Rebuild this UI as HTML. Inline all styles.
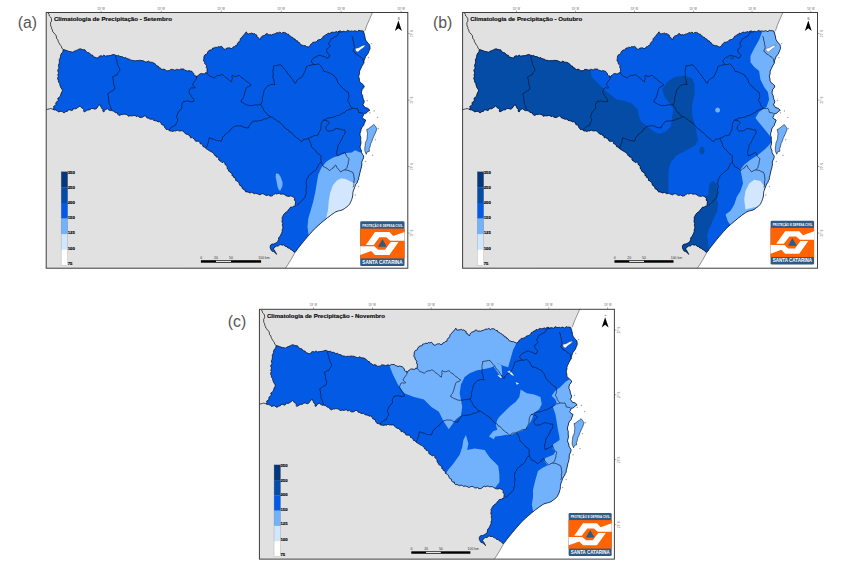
<!DOCTYPE html><html><head><meta charset="utf-8"><style>html,body{margin:0;padding:0;background:#fff}svg{display:block}text{font-family:"Liberation Sans",sans-serif}</style></head><body>
<svg width="845" height="572" viewBox="0 0 845 572">
<rect width="845" height="572" fill="#fff"/>
<defs><clipPath id="cs"><path d="M17.1 37.0 L19.2 37.6 L20.6 38.1 L22.0 38.7 L23.7 39.1 L25.5 39.4 L26.8 39.8 L27.8 38.7 L29.0 38.4 L30.1 37.9 L31.4 37.4 L32.5 36.7 L34.3 36.3 L36.0 37.0 L37.4 37.2 L38.8 37.3 L39.5 38.4 L40.3 39.5 L41.6 40.1 L43.1 40.4 L44.1 41.5 L45.1 42.6 L46.6 42.7 L47.1 44.4 L48.6 44.6 L50.2 45.3 L52.1 45.4 L53.0 43.7 L54.8 43.2 L56.4 43.7 L57.6 42.6 L59.3 43.7 L61.1 43.2 L62.6 43.2 L64.0 43.0 L65.3 42.6 L66.8 42.1 L68.2 42.0 L69.5 42.9 L70.9 43.3 L72.5 42.9 L73.7 44.0 L75.3 44.0 L76.7 44.5 L77.9 45.4 L79.5 45.0 L80.7 46.0 L82.1 46.4 L83.6 46.7 L84.7 47.8 L86.3 47.8 L87.7 48.2 L89.1 48.3 L90.5 48.0 L91.9 48.2 L93.3 47.8 L94.9 48.0 L96.5 48.1 L98.0 48.8 L99.5 49.5 L100.8 49.4 L102.2 48.5 L103.4 49.5 L104.9 49.7 L106.4 49.9 L107.6 50.5 L108.8 51.3 L109.8 52.2 L110.6 53.4 L112.0 53.5 L112.4 55.1 L113.8 55.3 L114.8 56.2 L116.0 57.1 L117.6 56.6 L119.0 57.2 L120.2 58.2 L121.7 58.3 L123.2 58.0 L124.4 56.9 L125.9 56.9 L127.4 57.2 L128.8 57.8 L130.2 56.9 L131.6 56.9 L133.0 57.6 L134.3 56.5 L135.8 56.6 L137.4 56.4 L138.5 57.7 L140.0 58.0 L141.3 58.6 L142.8 58.0 L144.1 58.5 L145.7 58.8 L146.6 60.0 L147.6 61.1 L147.7 62.5 L148.7 63.3 L150.3 63.6 L150.4 65.0 L151.2 63.4 L152.5 62.5 L153.8 61.4 L155.1 61.0 L156.7 61.3 L158.2 61.5 L159.2 60.2 L160.7 60.4 L160.8 59.0 L160.8 57.6 L160.9 56.2 L160.0 54.9 L160.4 53.2 L159.5 52.0 L158.4 51.0 L158.7 49.4 L157.4 48.6 L157.4 47.1 L157.7 45.8 L157.7 44.5 L158.1 43.3 L158.8 42.2 L160.3 41.8 L161.1 40.7 L161.6 39.4 L162.5 38.2 L163.8 37.5 L165.5 37.4 L166.4 35.6 L168.0 35.4 L169.3 34.7 L171.0 35.0 L172.2 34.0 L173.6 34.4 L175.1 33.8 L176.4 34.7 L177.3 36.4 L179.2 36.8 L180.4 35.6 L182.0 35.4 L183.5 35.3 L184.8 36.1 L186.2 35.8 L187.0 34.4 L188.3 34.0 L189.5 33.0 L191.1 32.6 L191.2 31.0 L191.9 29.9 L193.2 29.1 L194.0 27.7 L194.2 26.1 L195.3 24.9 L196.3 24.1 L197.0 22.9 L198.1 22.1 L199.1 20.6 L200.2 19.3 L200.7 20.9 L202.3 21.4 L203.4 21.0 L204.6 20.9 L205.8 20.4 L206.7 21.5 L208.3 21.0 L209.3 22.1 L210.6 22.6 L210.6 24.4 L212.1 24.9 L212.7 26.3 L214.1 27.0 L214.5 25.6 L215.1 24.4 L216.2 23.5 L217.6 23.1 L219.0 22.7 L219.7 21.4 L221.2 21.1 L222.4 22.6 L223.9 22.1 L225.4 22.5 L226.8 21.8 L228.1 21.4 L229.5 20.9 L230.8 20.1 L232.3 20.4 L233.7 19.5 L235.2 20.9 L236.5 20.0 L238.4 19.9 L240.0 20.7 L240.9 21.7 L242.4 21.7 L242.9 23.2 L244.2 23.5 L245.3 24.5 L246.8 25.1 L247.7 26.3 L249.1 26.7 L249.6 28.3 L251.3 28.3 L251.9 29.8 L253.2 30.1 L254.0 31.3 L254.7 32.4 L256.1 32.6 L257.4 33.2 L259.0 33.1 L260.3 34.0 L262.1 34.5 L263.8 33.5 L264.3 32.0 L265.7 31.1 L266.6 29.8 L268.0 29.7 L269.3 29.4 L270.6 29.0 L271.6 27.6 L273.1 27.1 L274.8 26.9 L275.5 25.8 L276.6 25.2 L277.0 23.8 L278.3 23.4 L279.3 22.3 L281.0 22.0 L281.8 20.6 L283.4 21.0 L284.6 20.2 L286.0 19.6 L287.4 19.9 L288.8 19.7 L290.2 19.0 L291.6 19.6 L292.8 18.6 L294.2 18.4 L295.9 19.7 L297.2 18.8 L298.6 19.0 L300.0 19.4 L301.3 17.7 L302.8 18.5 L304.1 18.7 L305.5 18.4 L306.9 18.9 L308.3 18.2 L309.7 18.5 L311.2 19.3 L312.5 17.6 L313.9 18.3 L315.3 18.2 L317.1 18.6 L318.4 22.7 L318.8 24.3 L319.0 26.0 L319.5 27.6 L320.8 29.4 L322.3 31.1 L323.4 32.3 L323.7 33.9 L323.9 36.0 L323.0 38.1 L322.4 39.5 L321.8 41.0 L320.9 42.3 L319.6 43.8 L318.8 45.8 L318.0 47.8 L317.4 49.9 L317.4 51.0 L316.3 52.7 L315.3 54.5 L314.6 56.1 L313.8 57.7 L313.2 59.4 L313.4 61.1 L312.8 62.7 L312.5 64.3 L313.2 66.3 L313.2 68.5 L314.4 70.2 L316.0 71.3 L318.1 73.4 L317.5 75.3 L316.0 76.9 L315.4 78.9 L315.3 81.1 L316.4 83.0 L316.7 85.3 L317.3 87.1 L318.1 88.8 L317.6 90.6 L316.7 92.3 L317.9 93.6 L318.8 95.1 L321.6 95.8 L323.7 97.8 L322.1 98.6 L320.9 99.9 L319.4 101.1 L317.4 101.3 L317.1 103.3 L316.0 104.8 L317.5 106.6 L319.5 107.6 L318.8 109.4 L318.1 111.1 L317.4 113.1 L316.0 114.6 L314.9 116.6 L314.6 118.8 L313.8 120.9 L313.9 123.1 L314.6 124.9 L314.5 126.8 L314.6 128.7 L314.8 130.6 L314.4 132.4 L313.9 134.3 L314.3 136.2 L315.2 137.9 L315.3 139.9 L316.2 141.7 L317.4 143.4 L317.4 145.1 L316.8 146.7 L316.0 148.3 L315.5 150.1 L315.7 152.0 L315.3 153.9 L315.0 155.7 L314.3 157.6 L313.9 159.5 L313.5 161.3 L313.1 163.2 L312.5 165.1 L312.5 166.8 L311.4 168.3 L311.1 169.9 L309.7 171.5 L309.0 173.4 L308.7 174.2 L308.3 175.3 L307.8 176.5 L307.3 177.8 L306.9 179.0 L306.7 180.2 L306.6 181.3 L306.6 182.4 L306.5 183.5 L306.2 184.6 L305.9 185.8 L305.5 187.0 L305.1 188.1 L304.6 189.2 L304.1 190.2 L303.7 191.1 L303.2 191.8 L302.7 192.4 L302.1 193.0 L301.4 193.7 L300.4 194.5 L299.3 195.3 L298.2 196.1 L297.0 196.9 L295.8 197.5 L294.6 197.9 L293.4 198.2 L292.2 198.4 L291.0 198.8 L289.7 199.3 L288.4 200.1 L287.0 201.0 L285.6 202.0 L284.1 203.1 L282.7 204.2 L281.3 205.2 L279.9 206.3 L278.5 207.5 L277.1 208.6 L275.7 209.8 L274.3 211.0 L272.9 212.2 L271.5 213.4 L270.1 214.7 L268.7 216.1 L267.3 217.5 L265.9 219.0 L264.5 220.6 L263.1 222.2 L261.7 223.8 L260.3 225.4 L258.9 227.1 L257.5 228.8 L256.1 230.5 L254.7 232.2 L253.4 233.9 L252.0 235.6 L250.7 237.4 L249.7 238.8 L248.9 239.8 L247.5 239.4 L246.7 238.2 L245.5 237.5 L244.3 237.0 L243.4 235.7 L241.6 235.5 L240.8 234.2 L239.4 233.9 L238.2 233.3 L237.3 232.2 L235.9 232.7 L234.4 232.1 L233.1 232.6 L231.9 233.6 L230.3 233.6 L228.9 234.2 L228.1 235.6 L226.8 236.3 L228.1 237.6 L228.9 239.1 L229.7 240.5 L230.3 241.9 L229.7 240.7 L228.5 240.0 L227.5 239.1 L225.7 238.6 L224.7 237.0 L224.0 235.4 L224.0 233.5 L224.7 232.2 L226.1 231.5 L227.6 231.6 L228.9 230.8 L230.5 230.0 L231.7 228.7 L232.4 227.0 L232.4 225.2 L233.8 224.0 L234.5 222.4 L235.3 220.8 L236.0 219.3 L235.9 217.5 L236.6 215.8 L236.6 214.0 L236.0 212.6 L236.6 211.1 L235.9 209.8 L235.8 208.1 L236.2 206.5 L235.9 204.9 L236.6 203.8 L237.2 202.5 L238.0 201.4 L239.0 200.3 L240.2 199.4 L241.5 198.6 L242.3 197.0 L243.6 195.8 L244.4 194.6 L246.1 194.8 L247.1 193.7 L248.9 193.7 L249.4 188.8 L248.1 187.7 L248.4 185.8 L247.3 184.6 L246.0 184.0 L244.7 183.3 L243.1 183.9 L241.6 183.8 L240.2 183.4 L238.9 182.5 L237.6 181.7 L236.2 181.5 L234.7 181.8 L233.3 181.1 L231.9 180.9 L230.6 181.6 L229.1 181.1 L227.8 181.8 L226.6 183.0 L225.2 183.5 L223.6 183.6 L222.4 182.4 L220.7 182.9 L219.2 182.7 L218.0 181.8 L216.6 181.2 L215.2 181.5 L213.8 182.4 L212.4 181.8 L211.0 181.3 L209.6 180.8 L208.0 181.3 L206.8 180.4 L205.4 179.8 L203.9 180.6 L202.5 179.9 L201.2 179.4 L199.7 179.4 L198.8 178.6 L198.5 176.7 L197.0 176.9 L195.9 175.8 L195.8 174.0 L194.2 173.4 L193.4 172.5 L193.0 171.3 L192.7 170.0 L191.7 169.3 L190.7 168.5 L189.4 167.9 L189.4 166.4 L188.8 165.4 L187.4 164.9 L187.2 163.6 L185.7 163.0 L186.0 161.0 L184.6 160.4 L183.7 159.4 L182.5 158.7 L182.2 157.3 L181.2 156.5 L180.9 155.2 L180.9 153.7 L179.8 152.7 L178.6 151.8 L178.8 150.3 L177.7 149.3 L176.0 150.2 L174.9 149.0 L173.7 148.3 L172.5 147.5 L172.6 145.6 L171.4 144.8 L170.0 144.5 L169.7 143.1 L168.3 142.8 L167.9 141.3 L166.9 140.7 L166.0 139.7 L164.8 139.2 L163.7 138.5 L162.6 137.9 L161.6 137.2 L160.5 136.6 L159.5 135.8 L158.6 134.6 L156.9 134.2 L156.4 132.6 L155.3 131.6 L154.0 131.3 L153.6 129.6 L152.7 128.8 L151.1 128.8 L149.6 128.7 L148.7 127.9 L148.2 126.3 L146.9 126.0 L146.0 125.1 L144.3 125.3 L144.0 123.5 L142.8 123.2 L142.2 121.8 L140.6 121.9 L139.4 121.3 L138.6 120.4 L137.5 119.6 L136.7 118.3 L135.1 118.3 L133.6 118.5 L132.2 118.2 L130.9 117.6 L129.7 118.6 L128.0 118.3 L126.7 119.0 L125.3 118.6 L123.7 118.5 L122.5 117.6 L121.3 117.0 L119.9 116.9 L119.1 115.8 L118.3 114.8 L118.1 113.1 L116.7 112.6 L115.3 111.9 L114.8 110.6 L113.8 109.1 L111.9 109.4 L110.6 108.5 L109.0 108.2 L107.4 107.9 L106.4 106.4 L104.9 106.8 L103.5 106.5 L102.2 105.7 L100.6 105.4 L99.7 103.6 L98.0 103.6 L96.7 104.5 L95.3 105.0 L93.8 105.0 L92.6 104.4 L91.6 103.4 L90.0 104.2 L89.1 102.9 L87.7 103.0 L86.3 103.4 L84.9 103.3 L83.5 103.4 L82.1 103.7 L81.1 102.3 L79.5 101.9 L77.9 101.6 L76.5 102.1 L74.9 101.9 L73.7 103.0 L72.5 102.5 L71.5 101.8 L71.1 100.2 L69.5 100.2 L68.2 99.4 L67.0 98.4 L65.3 98.1 L63.9 98.1 L62.5 97.4 L61.3 96.3 L59.7 96.7 L58.5 98.0 L57.6 99.5 L56.5 98.6 L57.0 96.8 L55.5 96.0 L55.0 94.7 L54.3 93.5 L54.1 92.1 L52.1 93.2 L51.5 94.4 L50.8 95.5 L49.8 96.3 L48.6 96.7 L46.9 96.0 L45.1 96.0 L44.1 97.1 L42.9 97.4 L41.6 97.4 L40.4 98.2 L39.2 98.8 L38.1 99.5 L37.4 98.4 L37.6 97.0 L36.7 96.0 L35.4 95.4 L34.6 94.3 L33.9 93.2 L32.6 94.4 L31.1 95.3 L29.8 96.3 L28.4 96.3 L26.9 96.0 L26.7 97.5 L25.5 98.1 L23.8 97.4 L22.0 97.4 L21.2 98.9 L19.5 99.0 L18.5 100.2 L16.9 100.0 L15.7 98.8 L13.9 98.9 L12.2 99.5 L11.0 98.2 L9.4 97.4 L7.9 97.4 L6.6 96.7 L7.9 95.9 L7.3 94.0 L8.7 93.2 L9.7 92.0 L9.6 90.2 L10.8 89.0 L12.2 88.0 L11.5 85.9 L12.9 84.8 L14.1 83.7 L14.5 82.2 L15.0 80.6 L15.8 79.3 L16.2 78.0 L15.7 76.5 L14.6 75.2 L14.1 73.8 L13.6 72.3 L13.4 70.8 L12.3 69.6 L12.2 68.1 L11.6 66.7 L11.4 65.3 L12.2 63.8 L11.5 62.5 L12.2 61.1 L12.2 59.7 L11.4 58.2 L11.9 56.9 L12.8 55.6 L12.4 54.1 L12.2 52.6 L12.9 51.3 L13.1 49.9 L13.3 48.5 L13.0 47.0 L13.9 45.7 L14.3 44.3 L14.4 42.8 L15.0 41.5 L15.6 40.4 L16.7 39.5 L16.8 38.2Z"/></clipPath></defs>
<g transform="translate(46.20 12.50) scale(1.0000 1.0000)">
<rect x="0" y="0" width="361.6" height="255.7" fill="#fff"/>
<path d="M0.0 0.0 L326.5 -0.4 L323.7 5.9 L320.9 12.2 L318.8 18.2 L318.4 22.7 L319.5 27.6 L322.3 31.1 L323.7 33.9 L323.0 38.1 L320.9 42.3 L318.8 45.8 L317.4 49.9 L317.4 51.0 L315.3 54.5 L313.2 59.4 L312.5 64.3 L313.2 68.5 L316.0 71.3 L318.1 73.4 L316.0 76.9 L315.3 81.1 L316.7 85.3 L318.1 88.8 L316.7 92.3 L318.8 95.1 L321.6 95.8 L323.7 97.8 L320.9 99.9 L317.4 101.3 L316.0 104.8 L319.5 107.6 L318.1 111.1 L316.0 114.6 L314.6 118.8 L313.9 123.1 L314.6 128.7 L313.9 134.3 L315.3 139.9 L317.4 143.4 L316.0 148.3 L315.3 153.9 L313.9 159.5 L312.5 165.1 L311.1 169.9 L309.0 173.4 L309.0 173.4 L308.7 174.2 L308.3 175.3 L307.8 176.5 L307.3 177.8 L306.9 179.0 L306.7 180.2 L306.6 181.3 L306.6 182.4 L306.5 183.5 L306.2 184.6 L305.9 185.8 L305.5 187.0 L305.1 188.1 L304.6 189.2 L304.1 190.2 L303.7 191.1 L303.2 191.8 L302.7 192.4 L302.1 193.0 L301.4 193.7 L300.4 194.5 L299.3 195.3 L298.2 196.1 L297.0 196.9 L295.8 197.5 L294.6 197.9 L293.4 198.2 L292.2 198.4 L291.0 198.8 L289.7 199.3 L288.4 200.1 L287.0 201.0 L285.6 202.0 L284.1 203.1 L282.7 204.2 L281.3 205.2 L279.9 206.3 L278.5 207.5 L277.1 208.6 L275.7 209.8 L274.3 211.0 L272.9 212.2 L271.5 213.4 L270.1 214.7 L268.7 216.1 L267.3 217.5 L265.9 219.0 L264.5 220.6 L263.1 222.2 L261.7 223.8 L260.3 225.4 L258.9 227.1 L257.5 228.8 L256.1 230.5 L254.7 232.2 L253.4 233.9 L252.0 235.6 L250.7 237.4 L249.7 238.8 L248.9 239.8 L245.0 246.8 L241.5 252.4 L239.1 255.9 L0.0 255.7Z" fill="#e1e1e1"/>
<g clip-path="url(#cs)">
<rect x="0" y="0" width="361.6" height="255.7" fill="#035be5"/>
<path d="M260.3 228.7 L263.1 224.5 L262.4 222.4 L261.3 214.6 L262.0 206.2 L264.1 199.2 L267.1 188.8 L269.2 179.0 L270.6 170.6 L272.0 162.3 L275.5 154.6 L280.4 149.0 L286.0 145.5 L293.0 142.7 L300.0 140.6 L305.5 139.9 L309.0 137.8 L313.9 139.9 L338.8 139.5 L338.8 242.5 L258.8 242.5Z" fill="#72b1fc"/>
<path d="M279.8 206.5 L281.8 197.5 L282.5 188.8 L283.9 180.4 L286.7 172.7 L290.9 167.8 L295.1 165.8 L299.3 166.5 L303.5 168.5 L307.6 170.6 L325.8 171.5 L325.8 219.5 L283.8 219.5Z" fill="#d2e7fe"/>
<path d="M229.8 160.8 L232.6 161.5 L234.7 165.0 L236.4 169.9 L236.1 174.1 L234.0 178.3 L232.6 177.6 L231.2 173.4 L230.3 168.5 L229.4 164.3Z" fill="#72b1fc"/>
</g>
<path d="M327.6 111.9 L329.2 113.9 L330.0 115.0 L330.7 116.3 L330.2 117.8 L329.6 119.4 L329.0 120.9 L328.3 122.3 L327.6 123.7 L327.1 125.1 L326.5 126.3 L326.0 127.7 L325.5 129.3 L324.6 130.8 L324.1 132.4 L323.8 134.4 L322.9 136.3 L323.3 138.7 L320.9 139.4 L320.1 141.8 L319.0 139.4 L318.6 137.9 L318.6 136.3 L318.7 134.7 L319.0 133.2 L319.1 131.2 L319.7 129.2 L320.5 127.7 L320.9 126.1 L321.0 124.1 L321.3 122.2 L321.3 120.6 L320.9 119.0 L320.5 117.0 L322.2 116.3 L323.7 115.1 L324.8 114.2 L326.0 113.5Z" fill="#72b1fc" stroke="#0a1730" stroke-width="0.6" stroke-linejoin="round"/>
<path d="M17.1 37.0 L19.2 37.6 L20.6 38.1 L22.0 38.7 L23.7 39.1 L25.5 39.4 L26.8 39.8 L27.8 38.7 L29.0 38.4 L30.1 37.9 L31.4 37.4 L32.5 36.7 L34.3 36.3 L36.0 37.0 L37.4 37.2 L38.8 37.3 L39.5 38.4 L40.3 39.5 L41.6 40.1 L43.1 40.4 L44.1 41.5 L45.1 42.6 L46.6 42.7 L47.1 44.4 L48.6 44.6 L50.2 45.3 L52.1 45.4 L53.0 43.7 L54.8 43.2 L56.4 43.7 L57.6 42.6 L59.3 43.7 L61.1 43.2 L62.6 43.2 L64.0 43.0 L65.3 42.6 L66.8 42.1 L68.2 42.0 L69.5 42.9 L70.9 43.3 L72.5 42.9 L73.7 44.0 L75.3 44.0 L76.7 44.5 L77.9 45.4 L79.5 45.0 L80.7 46.0 L82.1 46.4 L83.6 46.7 L84.7 47.8 L86.3 47.8 L87.7 48.2 L89.1 48.3 L90.5 48.0 L91.9 48.2 L93.3 47.8 L94.9 48.0 L96.5 48.1 L98.0 48.8 L99.5 49.5 L100.8 49.4 L102.2 48.5 L103.4 49.5 L104.9 49.7 L106.4 49.9 L107.6 50.5 L108.8 51.3 L109.8 52.2 L110.6 53.4 L112.0 53.5 L112.4 55.1 L113.8 55.3 L114.8 56.2 L116.0 57.1 L117.6 56.6 L119.0 57.2 L120.2 58.2 L121.7 58.3 L123.2 58.0 L124.4 56.9 L125.9 56.9 L127.4 57.2 L128.8 57.8 L130.2 56.9 L131.6 56.9 L133.0 57.6 L134.3 56.5 L135.8 56.6 L137.4 56.4 L138.5 57.7 L140.0 58.0 L141.3 58.6 L142.8 58.0 L144.1 58.5 L145.7 58.8 L146.6 60.0 L147.6 61.1 L147.7 62.5 L148.7 63.3 L150.3 63.6 L150.4 65.0 L151.2 63.4 L152.5 62.5 L153.8 61.4 L155.1 61.0 L156.7 61.3 L158.2 61.5 L159.2 60.2 L160.7 60.4 L160.8 59.0 L160.8 57.6 L160.9 56.2 L160.0 54.9 L160.4 53.2 L159.5 52.0 L158.4 51.0 L158.7 49.4 L157.4 48.6 L157.4 47.1 L157.7 45.8 L157.7 44.5 L158.1 43.3 L158.8 42.2 L160.3 41.8 L161.1 40.7 L161.6 39.4 L162.5 38.2 L163.8 37.5 L165.5 37.4 L166.4 35.6 L168.0 35.4 L169.3 34.7 L171.0 35.0 L172.2 34.0 L173.6 34.4 L175.1 33.8 L176.4 34.7 L177.3 36.4 L179.2 36.8 L180.4 35.6 L182.0 35.4 L183.5 35.3 L184.8 36.1 L186.2 35.8 L187.0 34.4 L188.3 34.0 L189.5 33.0 L191.1 32.6 L191.2 31.0 L191.9 29.9 L193.2 29.1 L194.0 27.7 L194.2 26.1 L195.3 24.9 L196.3 24.1 L197.0 22.9 L198.1 22.1 L199.1 20.6 L200.2 19.3 L200.7 20.9 L202.3 21.4 L203.4 21.0 L204.6 20.9 L205.8 20.4 L206.7 21.5 L208.3 21.0 L209.3 22.1 L210.6 22.6 L210.6 24.4 L212.1 24.9 L212.7 26.3 L214.1 27.0 L214.5 25.6 L215.1 24.4 L216.2 23.5 L217.6 23.1 L219.0 22.7 L219.7 21.4 L221.2 21.1 L222.4 22.6 L223.9 22.1 L225.4 22.5 L226.8 21.8 L228.1 21.4 L229.5 20.9 L230.8 20.1 L232.3 20.4 L233.7 19.5 L235.2 20.9 L236.5 20.0 L238.4 19.9 L240.0 20.7 L240.9 21.7 L242.4 21.7 L242.9 23.2 L244.2 23.5 L245.3 24.5 L246.8 25.1 L247.7 26.3 L249.1 26.7 L249.6 28.3 L251.3 28.3 L251.9 29.8 L253.2 30.1 L254.0 31.3 L254.7 32.4 L256.1 32.6 L257.4 33.2 L259.0 33.1 L260.3 34.0 L262.1 34.5 L263.8 33.5 L264.3 32.0 L265.7 31.1 L266.6 29.8 L268.0 29.7 L269.3 29.4 L270.6 29.0 L271.6 27.6 L273.1 27.1 L274.8 26.9 L275.5 25.8 L276.6 25.2 L277.0 23.8 L278.3 23.4 L279.3 22.3 L281.0 22.0 L281.8 20.6 L283.4 21.0 L284.6 20.2 L286.0 19.6 L287.4 19.9 L288.8 19.7 L290.2 19.0 L291.6 19.6 L292.8 18.6 L294.2 18.4 L295.9 19.7 L297.2 18.8 L298.6 19.0 L300.0 19.4 L301.3 17.7 L302.8 18.5 L304.1 18.7 L305.5 18.4 L306.9 18.9 L308.3 18.2 L309.7 18.5 L311.2 19.3 L312.5 17.6 L313.9 18.3 L315.3 18.2 L317.1 18.6 L318.4 22.7 L318.8 24.3 L319.0 26.0 L319.5 27.6 L320.8 29.4 L322.3 31.1 L323.4 32.3 L323.7 33.9 L323.9 36.0 L323.0 38.1 L322.4 39.5 L321.8 41.0 L320.9 42.3 L319.6 43.8 L318.8 45.8 L318.0 47.8 L317.4 49.9 L317.4 51.0 L316.3 52.7 L315.3 54.5 L314.6 56.1 L313.8 57.7 L313.2 59.4 L313.4 61.1 L312.8 62.7 L312.5 64.3 L313.2 66.3 L313.2 68.5 L314.4 70.2 L316.0 71.3 L318.1 73.4 L317.5 75.3 L316.0 76.9 L315.4 78.9 L315.3 81.1 L316.4 83.0 L316.7 85.3 L317.3 87.1 L318.1 88.8 L317.6 90.6 L316.7 92.3 L317.9 93.6 L318.8 95.1 L321.6 95.8 L323.7 97.8 L322.1 98.6 L320.9 99.9 L319.4 101.1 L317.4 101.3 L317.1 103.3 L316.0 104.8 L317.5 106.6 L319.5 107.6 L318.8 109.4 L318.1 111.1 L317.4 113.1 L316.0 114.6 L314.9 116.6 L314.6 118.8 L313.8 120.9 L313.9 123.1 L314.6 124.9 L314.5 126.8 L314.6 128.7 L314.8 130.6 L314.4 132.4 L313.9 134.3 L314.3 136.2 L315.2 137.9 L315.3 139.9 L316.2 141.7 L317.4 143.4 L317.4 145.1 L316.8 146.7 L316.0 148.3 L315.5 150.1 L315.7 152.0 L315.3 153.9 L315.0 155.7 L314.3 157.6 L313.9 159.5 L313.5 161.3 L313.1 163.2 L312.5 165.1 L312.5 166.8 L311.4 168.3 L311.1 169.9 L309.7 171.5 L309.0 173.4 L308.7 174.2 L308.3 175.3 L307.8 176.5 L307.3 177.8 L306.9 179.0 L306.7 180.2 L306.6 181.3 L306.6 182.4 L306.5 183.5 L306.2 184.6 L305.9 185.8 L305.5 187.0 L305.1 188.1 L304.6 189.2 L304.1 190.2 L303.7 191.1 L303.2 191.8 L302.7 192.4 L302.1 193.0 L301.4 193.7 L300.4 194.5 L299.3 195.3 L298.2 196.1 L297.0 196.9 L295.8 197.5 L294.6 197.9 L293.4 198.2 L292.2 198.4 L291.0 198.8 L289.7 199.3 L288.4 200.1 L287.0 201.0 L285.6 202.0 L284.1 203.1 L282.7 204.2 L281.3 205.2 L279.9 206.3 L278.5 207.5 L277.1 208.6 L275.7 209.8 L274.3 211.0 L272.9 212.2 L271.5 213.4 L270.1 214.7 L268.7 216.1 L267.3 217.5 L265.9 219.0 L264.5 220.6 L263.1 222.2 L261.7 223.8 L260.3 225.4 L258.9 227.1 L257.5 228.8 L256.1 230.5 L254.7 232.2 L253.4 233.9 L252.0 235.6 L250.7 237.4 L249.7 238.8 L248.9 239.8 L247.5 239.4 L246.7 238.2 L245.5 237.5 L244.3 237.0 L243.4 235.7 L241.6 235.5 L240.8 234.2 L239.4 233.9 L238.2 233.3 L237.3 232.2 L235.9 232.7 L234.4 232.1 L233.1 232.6 L231.9 233.6 L230.3 233.6 L228.9 234.2 L228.1 235.6 L226.8 236.3 L228.1 237.6 L228.9 239.1 L229.7 240.5 L230.3 241.9 L229.7 240.7 L228.5 240.0 L227.5 239.1 L225.7 238.6 L224.7 237.0 L224.0 235.4 L224.0 233.5 L224.7 232.2 L226.1 231.5 L227.6 231.6 L228.9 230.8 L230.5 230.0 L231.7 228.7 L232.4 227.0 L232.4 225.2 L233.8 224.0 L234.5 222.4 L235.3 220.8 L236.0 219.3 L235.9 217.5 L236.6 215.8 L236.6 214.0 L236.0 212.6 L236.6 211.1 L235.9 209.8 L235.8 208.1 L236.2 206.5 L235.9 204.9 L236.6 203.8 L237.2 202.5 L238.0 201.4 L239.0 200.3 L240.2 199.4 L241.5 198.6 L242.3 197.0 L243.6 195.8 L244.4 194.6 L246.1 194.8 L247.1 193.7 L248.9 193.7 L249.4 188.8 L248.1 187.7 L248.4 185.8 L247.3 184.6 L246.0 184.0 L244.7 183.3 L243.1 183.9 L241.6 183.8 L240.2 183.4 L238.9 182.5 L237.6 181.7 L236.2 181.5 L234.7 181.8 L233.3 181.1 L231.9 180.9 L230.6 181.6 L229.1 181.1 L227.8 181.8 L226.6 183.0 L225.2 183.5 L223.6 183.6 L222.4 182.4 L220.7 182.9 L219.2 182.7 L218.0 181.8 L216.6 181.2 L215.2 181.5 L213.8 182.4 L212.4 181.8 L211.0 181.3 L209.6 180.8 L208.0 181.3 L206.8 180.4 L205.4 179.8 L203.9 180.6 L202.5 179.9 L201.2 179.4 L199.7 179.4 L198.8 178.6 L198.5 176.7 L197.0 176.9 L195.9 175.8 L195.8 174.0 L194.2 173.4 L193.4 172.5 L193.0 171.3 L192.7 170.0 L191.7 169.3 L190.7 168.5 L189.4 167.9 L189.4 166.4 L188.8 165.4 L187.4 164.9 L187.2 163.6 L185.7 163.0 L186.0 161.0 L184.6 160.4 L183.7 159.4 L182.5 158.7 L182.2 157.3 L181.2 156.5 L180.9 155.2 L180.9 153.7 L179.8 152.7 L178.6 151.8 L178.8 150.3 L177.7 149.3 L176.0 150.2 L174.9 149.0 L173.7 148.3 L172.5 147.5 L172.6 145.6 L171.4 144.8 L170.0 144.5 L169.7 143.1 L168.3 142.8 L167.9 141.3 L166.9 140.7 L166.0 139.7 L164.8 139.2 L163.7 138.5 L162.6 137.9 L161.6 137.2 L160.5 136.6 L159.5 135.8 L158.6 134.6 L156.9 134.2 L156.4 132.6 L155.3 131.6 L154.0 131.3 L153.6 129.6 L152.7 128.8 L151.1 128.8 L149.6 128.7 L148.7 127.9 L148.2 126.3 L146.9 126.0 L146.0 125.1 L144.3 125.3 L144.0 123.5 L142.8 123.2 L142.2 121.8 L140.6 121.9 L139.4 121.3 L138.6 120.4 L137.5 119.6 L136.7 118.3 L135.1 118.3 L133.6 118.5 L132.2 118.2 L130.9 117.6 L129.7 118.6 L128.0 118.3 L126.7 119.0 L125.3 118.6 L123.7 118.5 L122.5 117.6 L121.3 117.0 L119.9 116.9 L119.1 115.8 L118.3 114.8 L118.1 113.1 L116.7 112.6 L115.3 111.9 L114.8 110.6 L113.8 109.1 L111.9 109.4 L110.6 108.5 L109.0 108.2 L107.4 107.9 L106.4 106.4 L104.9 106.8 L103.5 106.5 L102.2 105.7 L100.6 105.4 L99.7 103.6 L98.0 103.6 L96.7 104.5 L95.3 105.0 L93.8 105.0 L92.6 104.4 L91.6 103.4 L90.0 104.2 L89.1 102.9 L87.7 103.0 L86.3 103.4 L84.9 103.3 L83.5 103.4 L82.1 103.7 L81.1 102.3 L79.5 101.9 L77.9 101.6 L76.5 102.1 L74.9 101.9 L73.7 103.0 L72.5 102.5 L71.5 101.8 L71.1 100.2 L69.5 100.2 L68.2 99.4 L67.0 98.4 L65.3 98.1 L63.9 98.1 L62.5 97.4 L61.3 96.3 L59.7 96.7 L58.5 98.0 L57.6 99.5 L56.5 98.6 L57.0 96.8 L55.5 96.0 L55.0 94.7 L54.3 93.5 L54.1 92.1 L52.1 93.2 L51.5 94.4 L50.8 95.5 L49.8 96.3 L48.6 96.7 L46.9 96.0 L45.1 96.0 L44.1 97.1 L42.9 97.4 L41.6 97.4 L40.4 98.2 L39.2 98.8 L38.1 99.5 L37.4 98.4 L37.6 97.0 L36.7 96.0 L35.4 95.4 L34.6 94.3 L33.9 93.2 L32.6 94.4 L31.1 95.3 L29.8 96.3 L28.4 96.3 L26.9 96.0 L26.7 97.5 L25.5 98.1 L23.8 97.4 L22.0 97.4 L21.2 98.9 L19.5 99.0 L18.5 100.2 L16.9 100.0 L15.7 98.8 L13.9 98.9 L12.2 99.5 L11.0 98.2 L9.4 97.4 L7.9 97.4 L6.6 96.7 L7.9 95.9 L7.3 94.0 L8.7 93.2 L9.7 92.0 L9.6 90.2 L10.8 89.0 L12.2 88.0 L11.5 85.9 L12.9 84.8 L14.1 83.7 L14.5 82.2 L15.0 80.6 L15.8 79.3 L16.2 78.0 L15.7 76.5 L14.6 75.2 L14.1 73.8 L13.6 72.3 L13.4 70.8 L12.3 69.6 L12.2 68.1 L11.6 66.7 L11.4 65.3 L12.2 63.8 L11.5 62.5 L12.2 61.1 L12.2 59.7 L11.4 58.2 L11.9 56.9 L12.8 55.6 L12.4 54.1 L12.2 52.6 L12.9 51.3 L13.1 49.9 L13.3 48.5 L13.0 47.0 L13.9 45.7 L14.3 44.3 L14.4 42.8 L15.0 41.5 L15.6 40.4 L16.7 39.5 L16.8 38.2Z" fill="none" stroke="#07122b" stroke-width="0.8" stroke-linejoin="round"/>
<path d="M69.5 42.9 L69.5 44.8 L70.1 46.7 L70.7 48.5 L71.0 50.4 L71.4 52.3 L72.3 54.1 L73.3 55.7 L73.7 57.6 L72.7 59.1 L71.5 60.6 L70.9 62.5 L69.2 62.8 L67.6 63.8 L66.0 64.6 L66.8 66.1 L67.1 67.8 L67.4 69.5 L67.4 71.7 L68.4 73.7 L68.5 75.5 L67.9 77.2 L66.7 78.2 L65.0 78.6 L63.9 79.9 L61.4 81.3 L61.8 83.0 L62.3 84.6 L62.3 86.2 L62.8 88.1 L62.5 90.0 L63.2 91.8 L64.1 93.6 L64.7 95.5 L65.3 97.4 M150.4 65.0 L150.0 66.7 L149.0 68.1 L148.0 69.4 L147.1 70.8 L146.2 72.3 L147.7 73.6 L149.0 75.1 L147.5 75.6 L145.7 75.2 L144.1 75.8 L143.2 77.8 L142.8 79.9 L143.8 81.7 L144.8 83.4 L146.2 85.2 L147.6 86.9 L147.6 89.0 L145.5 89.1 L143.4 89.1 L141.4 88.3 L139.3 88.8 L137.2 89.0 L135.8 91.7 L135.4 93.3 L135.7 95.0 L135.1 96.6 L133.7 97.5 L132.9 99.1 L131.6 100.1 L131.1 102.3 L130.2 104.3 L131.3 106.2 L131.6 108.5 L130.1 110.4 L129.5 112.7 L127.3 113.5 L125.3 114.8 L123.9 115.9 L123.2 117.6 M160.7 60.4 L162.3 62.5 L163.5 63.7 L165.1 64.1 L167.9 65.5 L169.2 64.4 L170.5 63.4 L172.2 62.9 L174.1 62.9 L175.7 61.9 L177.6 63.1 L179.2 64.7 L181.2 65.8 L182.7 67.5 L184.0 68.6 L185.5 69.4 L185.5 67.7 L186.2 66.0 L185.7 64.3 L186.2 62.6 L187.8 63.8 L189.7 64.0 L191.4 63.3 L193.2 62.9 L194.5 64.1 L195.7 65.4 L197.4 66.1 L198.6 67.4 L199.9 68.8 L201.6 69.6 L203.2 71.2 L205.1 72.4 L203.2 73.9 L200.9 74.5 L199.8 76.0 L199.4 77.8 L198.8 79.4 L198.1 82.5 L197.4 84.3 L196.7 86.1 L195.3 87.5 L194.8 89.4 L196.5 90.2 L198.1 91.3 L199.9 91.9 L201.6 92.8 L203.5 93.1 L205.1 93.0 L206.7 93.0 L208.3 92.7 L209.9 92.2 L211.5 92.7 L213.1 91.9 L214.7 91.9 M214.7 91.9 L215.5 90.3 L216.0 88.7 L216.3 87.0 L215.9 85.2 L216.8 83.6 L217.1 81.9 L217.6 80.3 L217.6 78.6 L218.4 77.0 L219.0 76.6 L220.2 74.7 L221.8 73.1 L223.9 72.4 L226.0 71.7 L228.8 72.4 L228.1 70.6 L227.9 68.7 L227.4 66.8 L226.8 65.2 L226.7 63.5 L227.2 61.8 L226.8 60.1 L226.7 58.4 L227.0 56.8 L227.4 55.2 L227.4 53.5 L229.5 53.1 L231.6 52.8 L233.3 52.3 L235.1 52.6 L236.0 54.0 L237.2 55.2 L238.2 56.6 L239.3 57.7 L240.5 59.4 L241.4 61.2 L243.1 62.4 L244.2 64.0 L245.0 65.6 L246.3 66.8 L247.1 68.3 L248.0 69.7 L249.1 71.0 L249.9 69.5 L250.6 68.0 L251.9 66.8 L253.3 65.9 L254.8 65.2 L256.1 64.0 L257.1 62.2 L257.9 60.3 L258.9 58.4 L259.6 56.3 L260.1 54.1 L261.9 53.3 L263.9 52.8 L265.8 52.4 L267.8 52.0 L269.9 52.0 L272.0 51.3 L273.4 52.3 L274.6 53.4 L275.5 54.8 L276.9 56.8 L277.6 59.0 L279.6 59.1 L281.4 59.8 L283.2 60.4 L285.2 61.6 L287.4 62.5 L288.5 64.5 L290.2 66.0 L291.0 68.1 L291.6 70.2 L293.1 71.9 L294.4 73.7 L295.9 74.8 L297.3 76.1 L298.6 77.5 L300.2 78.8 L302.1 79.7 L302.4 81.8 L302.8 83.9 L302.3 86.0 L301.4 88.1 L302.8 90.0 L303.5 92.3 L304.6 94.2 L306.2 95.8 L307.9 96.0 L309.5 96.1 L311.1 95.8 L312.1 97.8 L312.5 99.9 L314.6 100.3 L316.7 100.6 M297.2 18.8 L295.5 19.2 L293.8 19.7 L292.3 20.6 L291.5 22.5 L290.2 24.1 L288.3 24.3 L287.0 25.8 L285.3 26.2 L284.2 27.5 L283.7 29.2 L282.5 30.4 L282.9 32.2 L283.9 33.9 L282.3 35.5 L280.4 36.7 L280.5 38.4 L281.1 40.2 L282.3 41.7 L283.9 43.0 L282.6 44.2 L281.8 45.8 L279.9 45.1 L278.2 44.0 L276.2 43.7 L274.2 42.8 L272.0 43.0 L270.1 44.3 L267.8 45.1 L266.4 46.8 L265.0 48.5 L266.0 50.6 L267.8 52.0 M306.2 95.8 L304.7 96.6 L302.8 96.8 L301.4 97.8 L299.8 98.4 L298.7 99.8 L297.0 100.2 L295.8 101.3 L294.0 101.9 L292.4 103.2 L290.3 103.0 L288.8 104.1 L287.1 104.7 L285.3 105.0 L283.5 105.3 L281.8 105.5 L280.1 106.2 L278.7 107.3 L276.9 107.6 L276.0 109.2 L275.2 110.8 L274.8 112.5 L274.8 114.2 L274.5 115.8 L274.8 117.4 L274.1 117.5 L273.3 119.1 L272.4 120.6 L272.0 122.4 L269.9 123.1 L267.8 123.1 L266.0 124.2 L264.1 125.0 L262.2 125.9 M214.7 91.9 L215.2 93.5 L216.4 94.8 L217.2 96.3 L217.6 97.9 L218.4 99.4 L220.2 100.3 L221.3 102.1 L222.9 103.3 L224.6 104.3 L226.3 104.7 L227.4 106.1 L228.9 106.8 L230.3 107.8 L231.6 108.9 L233.3 109.3 L234.2 110.9 L235.9 111.7 L236.8 113.3 L238.1 114.5 L239.2 115.9 L240.8 116.8 L242.3 117.5 L243.0 119.2 L244.7 119.8 L246.0 120.7 L247.0 122.2 L248.0 123.4 L249.5 124.2 L250.8 125.8 L252.7 126.6 L253.9 128.2 L255.7 129.2 L256.5 127.6 L258.0 126.6 L260.2 126.7 L262.2 125.9 M262.2 125.9 L263.1 128.1 L264.3 130.1 L264.8 132.0 L265.3 134.0 L266.4 135.7 L268.0 136.9 L269.5 138.2 L270.6 139.9 L271.8 141.3 L273.5 142.1 L274.8 143.4 L274.9 145.1 L274.5 146.9 L275.1 148.6 L274.8 150.4 L273.9 150.3 L272.5 151.8 L271.8 153.8 L270.9 155.2 L270.3 156.8 L269.0 158.0 L267.0 159.1 L265.5 160.8 L263.7 162.1 L262.0 163.6 L261.9 165.3 L260.6 166.6 L260.2 168.2 L259.9 169.9 L260.0 172.0 L260.6 174.1 L260.2 175.7 L259.7 177.3 L259.9 179.0 L260.2 180.9 L259.0 182.6 L259.2 184.6 L257.9 185.7 L256.9 187.2 L255.5 188.2 L254.3 189.5 L253.3 190.7 L251.9 191.7 L250.8 193.0 M274.8 150.4 L276.2 151.9 L276.9 153.9 L279.7 155.3 L281.7 156.4 L283.2 158.1 L284.6 157.2 L285.8 155.9 L287.4 155.3 L288.1 153.6 L289.5 152.5 L290.9 155.3 L292.1 156.6 L293.3 158.0 L294.4 159.5 L296.3 158.2 L298.6 157.4 L300.7 157.6 L302.8 158.1 L304.4 159.1 L306.2 159.5 L307.3 161.4 L307.6 163.7 L308.0 165.5 L308.1 167.4 L307.6 169.2 L307.7 171.1 L307.6 173.0 L306.9 174.8 M276.9 107.6 L279.0 108.0 L281.1 108.3 L283.2 110.4 L281.9 111.9 L280.4 113.2 L279.7 114.9 L279.7 116.7 L281.8 118.8 L283.4 118.4 L285.0 118.4 L286.7 118.1 L288.3 116.9 L290.2 116.0 L292.3 116.3 L294.4 116.7 L296.4 117.5 L298.6 117.4 L299.0 119.5 L298.6 121.6 L297.2 123.1 L296.3 125.0 L295.5 126.9 L294.4 128.7 L293.6 130.6 L292.0 132.2 L291.6 134.3 L291.4 136.2 L290.7 138.0 L290.4 139.9 L290.7 141.6 L290.9 143.4 L292.7 142.9 L294.4 142.0 L296.4 140.9 L298.6 139.9 L299.6 141.5 L300.0 143.4 L301.4 144.7 L302.8 146.2 L302.6 147.8 L302.0 149.4 L302.1 151.1 L301.3 153.1 L300.7 155.3 L298.6 157.4 M224.6 104.3 L223.0 104.8 L221.5 105.6 L220.0 106.4 L218.2 106.3 L216.7 107.3 L215.1 107.8 L213.4 108.1 L211.6 108.5 L209.7 108.6 L207.8 108.5 L206.0 109.3 L205.1 110.9 L203.7 112.1 L202.8 113.7 L202.3 115.5 L200.5 115.3 L198.8 115.1 L197.1 114.6 L195.6 113.5 L193.8 113.4 L192.1 113.3 L190.3 113.4 L188.0 114.0 L186.1 115.5 L184.3 116.9 L183.3 119.0 L181.8 119.8 L180.5 120.8 L179.1 121.8 L178.0 123.5 L176.3 124.6 L176.1 126.8 L174.9 128.8 L173.3 128.2 L171.7 128.1 L170.0 128.1 L168.5 127.1 L166.8 126.6 L165.1 126.0 L163.0 125.3 L162.5 127.3 L162.3 129.5 L161.5 131.5 L160.9 133.7 L159.5 135.8 M305.5 23.4 L306.6 25.3 L306.7 27.6 L307.5 29.6 L307.6 31.8 L308.1 33.5 L308.3 35.3 L307.5 36.9 L306.9 38.8 L308.6 39.9 L309.7 41.6 L311.7 42.3 L313.2 43.7 L315.2 44.8 L316.7 46.5 L317.2 48.6 L318.1 50.6" fill="none" stroke="#07122b" stroke-width="0.65" stroke-linejoin="round"/>
<path d="M1.9 0.5 L2.8 1.8 L3.2 3.5 L4.4 4.6 L5.2 5.8 L5.3 7.3 L5.3 8.7 L4.3 10.3 L4.4 12.1 L4.5 13.5 L5.4 14.7 L5.3 16.2 L6.3 17.5 L6.5 19.2 L7.7 20.3 L8.6 21.7 L9.9 22.8 L10.2 24.5 L10.3 26.0 L11.7 27.1 L11.9 28.6 L12.6 30.1 L13.4 31.5 L14.4 32.8 L15.3 34.2 L15.7 35.9 L17.1 37.0 M6.6 96.7 L4.5 96.0 L3.0 96.4 L1.6 96.8 L0.1 97.0" fill="none" stroke="#111" stroke-width="0.75"/>
<path d="M326.5 -0.4 L323.7 5.9 L320.9 12.2 L318.8 18.2 M248.9 239.8 L245.0 246.8 L241.5 252.4 L239.1 255.9" fill="none" stroke="#333" stroke-width="0.5"/>
<circle cx="320.9" cy="88.1" r="0.35" fill="#fff" stroke="#222" stroke-width="0.35"/>
<circle cx="327.9" cy="98.5" r="0.35" fill="#fff" stroke="#222" stroke-width="0.35"/>
<circle cx="331.4" cy="104.8" r="0.35" fill="#fff" stroke="#222" stroke-width="0.35"/>
<circle cx="323.7" cy="100.4" r="0.35" fill="#fff" stroke="#222" stroke-width="0.35"/>
<circle cx="332.1" cy="116.0" r="0.35" fill="#fff" stroke="#222" stroke-width="0.35"/>
<circle cx="326.5" cy="142.7" r="0.35" fill="#fff" stroke="#222" stroke-width="0.35"/>
<circle cx="329.3" cy="127.3" r="0.35" fill="#fff" stroke="#222" stroke-width="0.35"/>
<circle cx="319.5" cy="149.0" r="0.35" fill="#fff" stroke="#222" stroke-width="0.35"/>
<circle cx="312.5" cy="174.1" r="0.35" fill="#fff" stroke="#222" stroke-width="0.35"/>
<circle cx="309.0" cy="182.5" r="0.35" fill="#fff" stroke="#222" stroke-width="0.35"/>
<circle cx="325.1" cy="31.1" r="0.35" fill="#fff" stroke="#222" stroke-width="0.35"/>
<circle cx="322.3" cy="45.1" r="0.35" fill="#fff" stroke="#222" stroke-width="0.35"/>
<path d="M309.0 36.0 L312.5 35.3 L316.0 33.2 L319.5 32.5 L317.4 35.0 L313.9 37.4 L311.8 39.5 L309.7 38.8Z" fill="#fff" stroke="#101828" stroke-width="0.3"/>
<text x="7.7" y="8.5" font-size="6.17" font-weight="bold" fill="#0a0a0a" stroke="#0a0a0a" stroke-width="0.15">Climatologia de Precipitação - Setembro</text>
<rect x="14.90" y="159.20" width="6.70" height="15.82" fill="#05387a"/>
<rect x="14.90" y="174.82" width="6.70" height="15.82" fill="#044ca6"/>
<rect x="14.90" y="190.43" width="6.70" height="15.82" fill="#035be5"/>
<rect x="14.90" y="206.05" width="6.70" height="15.82" fill="#72b1fc"/>
<rect x="14.90" y="221.67" width="6.70" height="15.82" fill="#d2e7fe"/>
<rect x="14.90" y="237.28" width="6.70" height="15.82" fill="#fff"/>
<rect x="14.90" y="159.20" width="6.70" height="93.70" fill="none" stroke="#888" stroke-width="0.3"/>
<text x="21.5" y="161.35" font-size="4.3" font-weight="bold" fill="#000" stroke="#000" stroke-width="0.15">350</text>
<text x="21.5" y="176.35" font-size="4.3" font-weight="bold" fill="#000" stroke="#000" stroke-width="0.15">250</text>
<text x="21.5" y="191.25" font-size="4.3" font-weight="bold" fill="#000" stroke="#000" stroke-width="0.15">200</text>
<text x="21.5" y="206.35" font-size="4.3" font-weight="bold" fill="#000" stroke="#000" stroke-width="0.15">150</text>
<text x="21.5" y="221.25" font-size="4.3" font-weight="bold" fill="#000" stroke="#000" stroke-width="0.15">125</text>
<text x="21.5" y="237.45" font-size="4.3" font-weight="bold" fill="#000" stroke="#000" stroke-width="0.15">100</text>
<text x="21.5" y="252.55" font-size="4.3" font-weight="bold" fill="#000" stroke="#000" stroke-width="0.15">75</text>
<rect x="154.7" y="247.7" width="60.2" height="2.5" fill="#000"/>
<rect x="169.8" y="248.3" width="15" height="1.2" fill="#e4e4e4"/>
<text x="155.0" y="246.1" font-size="3.5" fill="#333" text-anchor="middle">0</text>
<text x="169.8" y="246.1" font-size="3.5" fill="#333" text-anchor="middle">20</text>
<text x="184.8" y="246.1" font-size="3.5" fill="#333" text-anchor="middle">50</text>
<text x="212.1" y="246.1" font-size="3.5" fill="#333">100 km</text>
<path d="M348.7 18.6 L352.2 8.1 L355.7 18.6 L352.2 15.8 Z" fill="#000"/>
<text x="352.4" y="7.3" font-size="2.6" fill="#222" text-anchor="middle">N</text>
<g transform="translate(314.00 208.70) scale(1.0000 1.0000)">
<rect x="0" y="0" width="44.3" height="44.8" rx="1.3" fill="#2f5a86"/>
<rect x="0" y="7.4" width="44.3" height="29.8" fill="#ff6302"/>
<path d="M14.8 10.8 L29.2 10.8 L33 14.9 L44.3 10.8 L44.3 19.6 L29.9 19.6 L26.1 16.1 L19.2 16.1 L13.5 23.7 L5.7 23.7 Z" fill="#fff"/>
<path d="M29.2 33.8 L14.8 33.8 L11 29.7 L0 33.8 L0 25 L14.1 25 L17.9 28.5 L24.8 28.5 L30.5 20.9 L38.3 20.9 Z" fill="#fff"/>
<path d="M22.2 17.7 L26.7 25.6 L17.8 25.6 Z" fill="#2f5a86"/>
<text x="2.1" y="5.6" font-size="4" font-weight="bold" fill="#fff" textLength="40.6" lengthAdjust="spacingAndGlyphs">PROTEÇÃO E DEFESA CIVIL</text>
<text x="2.1" y="42.4" font-size="4.7" font-weight="bold" fill="#fff" textLength="40.2" lengthAdjust="spacingAndGlyphs">SANTA CATARINA</text>
</g>
<text x="54.9" y="-3.0" font-size="2.7" fill="#555" text-anchor="middle">53° W</text>
<rect x="54.6" y="-1.9" width="0.5" height="1.9" fill="#555"/>
<text x="114.9" y="-3.0" font-size="2.7" fill="#555" text-anchor="middle">53° W</text>
<rect x="114.7" y="-1.9" width="0.5" height="1.9" fill="#555"/>
<text x="174.9" y="-3.0" font-size="2.7" fill="#555" text-anchor="middle">53° W</text>
<rect x="174.7" y="-1.9" width="0.5" height="1.9" fill="#555"/>
<text x="234.9" y="-3.0" font-size="2.7" fill="#555" text-anchor="middle">53° W</text>
<rect x="234.7" y="-1.9" width="0.5" height="1.9" fill="#555"/>
<text x="294.9" y="-3.0" font-size="2.7" fill="#555" text-anchor="middle">53° W</text>
<rect x="294.6" y="-1.9" width="0.5" height="1.9" fill="#555"/>
<text x="354.9" y="-3.0" font-size="2.7" fill="#555" text-anchor="middle">53° W</text>
<rect x="354.6" y="-1.9" width="0.5" height="1.9" fill="#555"/>
<rect x="361.6" y="20.9" width="1.9" height="0.5" fill="#555"/>
<text transform="translate(367.0 21.1) rotate(-90)" font-size="2.7" fill="#555" text-anchor="middle">27° S</text>
<rect x="361.6" y="87.3" width="1.9" height="0.5" fill="#555"/>
<text transform="translate(367.0 87.6) rotate(-90)" font-size="2.7" fill="#555" text-anchor="middle">27° S</text>
<rect x="361.6" y="153.8" width="1.9" height="0.5" fill="#555"/>
<text transform="translate(367.0 154.1) rotate(-90)" font-size="2.7" fill="#555" text-anchor="middle">27° S</text>
<rect x="361.6" y="220.3" width="1.9" height="0.5" fill="#555"/>
<text transform="translate(367.0 220.6) rotate(-90)" font-size="2.7" fill="#555" text-anchor="middle">27° S</text>
<rect x="0" y="0" width="361.6" height="255.7" fill="none" stroke="#3c3c3c" stroke-width="1.0"/>
</g>
<g transform="translate(462.60 12.50) scale(0.9815 1.0000)">
<rect x="0" y="0" width="361.6" height="255.7" fill="#fff"/>
<path d="M0.0 0.0 L326.5 -0.4 L323.7 5.9 L320.9 12.2 L318.8 18.2 L318.4 22.7 L319.5 27.6 L322.3 31.1 L323.7 33.9 L323.0 38.1 L320.9 42.3 L318.8 45.8 L317.4 49.9 L317.4 51.0 L315.3 54.5 L313.2 59.4 L312.5 64.3 L313.2 68.5 L316.0 71.3 L318.1 73.4 L316.0 76.9 L315.3 81.1 L316.7 85.3 L318.1 88.8 L316.7 92.3 L318.8 95.1 L321.6 95.8 L323.7 97.8 L320.9 99.9 L317.4 101.3 L316.0 104.8 L319.5 107.6 L318.1 111.1 L316.0 114.6 L314.6 118.8 L313.9 123.1 L314.6 128.7 L313.9 134.3 L315.3 139.9 L317.4 143.4 L316.0 148.3 L315.3 153.9 L313.9 159.5 L312.5 165.1 L311.1 169.9 L309.0 173.4 L309.0 173.4 L308.7 174.2 L308.3 175.3 L307.8 176.5 L307.3 177.8 L306.9 179.0 L306.7 180.2 L306.6 181.3 L306.6 182.4 L306.5 183.5 L306.2 184.6 L305.9 185.8 L305.5 187.0 L305.1 188.1 L304.6 189.2 L304.1 190.2 L303.7 191.1 L303.2 191.8 L302.7 192.4 L302.1 193.0 L301.4 193.7 L300.4 194.5 L299.3 195.3 L298.2 196.1 L297.0 196.9 L295.8 197.5 L294.6 197.9 L293.4 198.2 L292.2 198.4 L291.0 198.8 L289.7 199.3 L288.4 200.1 L287.0 201.0 L285.6 202.0 L284.1 203.1 L282.7 204.2 L281.3 205.2 L279.9 206.3 L278.5 207.5 L277.1 208.6 L275.7 209.8 L274.3 211.0 L272.9 212.2 L271.5 213.4 L270.1 214.7 L268.7 216.1 L267.3 217.5 L265.9 219.0 L264.5 220.6 L263.1 222.2 L261.7 223.8 L260.3 225.4 L258.9 227.1 L257.5 228.8 L256.1 230.5 L254.7 232.2 L253.4 233.9 L252.0 235.6 L250.7 237.4 L249.7 238.8 L248.9 239.8 L245.0 246.8 L241.5 252.4 L239.1 255.9 L0.0 255.7Z" fill="#e1e1e1"/>
<g clip-path="url(#cs)">
<rect x="0" y="0" width="361.6" height="255.7" fill="#035be5"/>
<path d="M-7.7 -7.5 L130.3 -7.5 L130.3 57.6 L131.5 64.6 L136.6 69.5 L144.2 77.0 L150.5 82.0 L156.8 86.9 L164.4 88.2 L172.0 90.7 L178.4 96.9 L179.6 103.4 L181.8 109.0 L188.9 114.6 L194.6 118.8 L200.3 121.6 L207.4 118.8 L211.6 114.6 L213.0 109.0 L213.5 104.3 L214.8 96.9 L211.0 90.7 L205.9 84.5 L203.4 77.0 L208.4 69.5 L216.0 64.6 L226.2 63.3 L233.8 65.8 L236.3 72.0 L236.3 82.0 L233.8 91.9 L233.8 101.8 L236.3 111.8 L238.8 121.7 L240.1 134.4 L240.1 125.0 L237.6 132.4 L231.2 136.1 L223.6 139.9 L217.3 143.6 L212.2 149.8 L209.7 158.5 L209.7 167.2 L209.7 178.4 L209.7 192.1 L155.3 192.1 L-22.0 192.1Z" fill="#044ca6"/>
<path d="M251.5 170.9 L255.3 168.4 L259.1 170.9 L260.4 179.6 L259.1 187.1 L260.4 192.1 L259.1 199.5 L255.3 207.0 L251.5 215.7 L249.0 221.9 L250.2 229.3 L251.0 236.8 L249.5 241.8 L218.6 241.8 L218.6 192.1 L238.8 189.6 L250.2 182.1Z" fill="#044ca6"/>
<path d="M305.9 17.4 L302.1 27.3 L297.1 36.0 L293.3 43.4 L293.3 49.7 L297.1 54.6 L302.1 58.4 L303.4 67.1 L307.2 74.5 L311.0 79.5 L312.3 86.9 L309.7 94.4 L302.1 99.4 L298.3 105.6 L303.4 111.8 L309.7 119.2 L314.8 125.5 L317.3 134.4 L337.6 134.4 L337.6 17.4Z" fill="#72b1fc"/>
<path d="M270.5 209.5 L267.9 202.0 L273.0 198.3 L276.8 192.1 L279.3 184.6 L283.1 178.4 L285.7 170.9 L284.4 163.5 L283.1 157.3 L286.9 152.3 L293.3 147.3 L300.9 142.4 L307.2 137.4 L312.3 132.4 L316.1 127.4 L317.3 117.5 L337.6 117.5 L337.6 179.6 L281.9 221.9Z" fill="#72b1fc"/>
<path d="M288.2 197.0 L286.9 187.1 L288.2 178.4 L292.0 170.9 L297.1 167.2 L303.4 168.4 L307.2 173.4 L307.2 177.1 L317.3 177.1 L307.2 192.1Z" fill="#d2e7fe"/>
<path d="M262.3 97.6 L262.0 98.9 L261.1 99.8 L259.8 100.1 L258.6 99.8 L257.7 98.9 L257.3 97.6 L257.7 96.4 L258.6 95.5 L259.8 95.1 L261.1 95.5 L262.0 96.4Z" fill="#72b1fc"/>
<path d="M276.5 45.4 L276.2 46.3 L275.4 47.0 L274.3 47.2 L273.2 47.0 L272.4 46.3 L272.1 45.4 L272.4 44.5 L273.2 43.9 L274.3 43.6 L275.4 43.9 L276.2 44.5Z" fill="#044ca6"/>
<path d="M246.5 137.9 L246.1 139.9 L245.2 141.3 L243.9 141.9 L242.6 141.3 L241.6 139.9 L241.3 137.9 L241.6 135.9 L242.6 134.4 L243.9 133.9 L245.2 134.4 L246.1 135.9Z" fill="#044ca6"/>
</g>
<path d="M327.6 111.9 L329.2 113.9 L330.0 115.0 L330.7 116.3 L330.2 117.8 L329.6 119.4 L329.0 120.9 L328.3 122.3 L327.6 123.7 L327.1 125.1 L326.5 126.3 L326.0 127.7 L325.5 129.3 L324.6 130.8 L324.1 132.4 L323.8 134.4 L322.9 136.3 L323.3 138.7 L320.9 139.4 L320.1 141.8 L319.0 139.4 L318.6 137.9 L318.6 136.3 L318.7 134.7 L319.0 133.2 L319.1 131.2 L319.7 129.2 L320.5 127.7 L320.9 126.1 L321.0 124.1 L321.3 122.2 L321.3 120.6 L320.9 119.0 L320.5 117.0 L322.2 116.3 L323.7 115.1 L324.8 114.2 L326.0 113.5Z" fill="#72b1fc" stroke="#0a1730" stroke-width="0.6" stroke-linejoin="round"/>
<path d="M17.1 37.0 L19.2 37.6 L20.6 38.1 L22.0 38.7 L23.7 39.1 L25.5 39.4 L26.8 39.8 L27.8 38.7 L29.0 38.4 L30.1 37.9 L31.4 37.4 L32.5 36.7 L34.3 36.3 L36.0 37.0 L37.4 37.2 L38.8 37.3 L39.5 38.4 L40.3 39.5 L41.6 40.1 L43.1 40.4 L44.1 41.5 L45.1 42.6 L46.6 42.7 L47.1 44.4 L48.6 44.6 L50.2 45.3 L52.1 45.4 L53.0 43.7 L54.8 43.2 L56.4 43.7 L57.6 42.6 L59.3 43.7 L61.1 43.2 L62.6 43.2 L64.0 43.0 L65.3 42.6 L66.8 42.1 L68.2 42.0 L69.5 42.9 L70.9 43.3 L72.5 42.9 L73.7 44.0 L75.3 44.0 L76.7 44.5 L77.9 45.4 L79.5 45.0 L80.7 46.0 L82.1 46.4 L83.6 46.7 L84.7 47.8 L86.3 47.8 L87.7 48.2 L89.1 48.3 L90.5 48.0 L91.9 48.2 L93.3 47.8 L94.9 48.0 L96.5 48.1 L98.0 48.8 L99.5 49.5 L100.8 49.4 L102.2 48.5 L103.4 49.5 L104.9 49.7 L106.4 49.9 L107.6 50.5 L108.8 51.3 L109.8 52.2 L110.6 53.4 L112.0 53.5 L112.4 55.1 L113.8 55.3 L114.8 56.2 L116.0 57.1 L117.6 56.6 L119.0 57.2 L120.2 58.2 L121.7 58.3 L123.2 58.0 L124.4 56.9 L125.9 56.9 L127.4 57.2 L128.8 57.8 L130.2 56.9 L131.6 56.9 L133.0 57.6 L134.3 56.5 L135.8 56.6 L137.4 56.4 L138.5 57.7 L140.0 58.0 L141.3 58.6 L142.8 58.0 L144.1 58.5 L145.7 58.8 L146.6 60.0 L147.6 61.1 L147.7 62.5 L148.7 63.3 L150.3 63.6 L150.4 65.0 L151.2 63.4 L152.5 62.5 L153.8 61.4 L155.1 61.0 L156.7 61.3 L158.2 61.5 L159.2 60.2 L160.7 60.4 L160.8 59.0 L160.8 57.6 L160.9 56.2 L160.0 54.9 L160.4 53.2 L159.5 52.0 L158.4 51.0 L158.7 49.4 L157.4 48.6 L157.4 47.1 L157.7 45.8 L157.7 44.5 L158.1 43.3 L158.8 42.2 L160.3 41.8 L161.1 40.7 L161.6 39.4 L162.5 38.2 L163.8 37.5 L165.5 37.4 L166.4 35.6 L168.0 35.4 L169.3 34.7 L171.0 35.0 L172.2 34.0 L173.6 34.4 L175.1 33.8 L176.4 34.7 L177.3 36.4 L179.2 36.8 L180.4 35.6 L182.0 35.4 L183.5 35.3 L184.8 36.1 L186.2 35.8 L187.0 34.4 L188.3 34.0 L189.5 33.0 L191.1 32.6 L191.2 31.0 L191.9 29.9 L193.2 29.1 L194.0 27.7 L194.2 26.1 L195.3 24.9 L196.3 24.1 L197.0 22.9 L198.1 22.1 L199.1 20.6 L200.2 19.3 L200.7 20.9 L202.3 21.4 L203.4 21.0 L204.6 20.9 L205.8 20.4 L206.7 21.5 L208.3 21.0 L209.3 22.1 L210.6 22.6 L210.6 24.4 L212.1 24.9 L212.7 26.3 L214.1 27.0 L214.5 25.6 L215.1 24.4 L216.2 23.5 L217.6 23.1 L219.0 22.7 L219.7 21.4 L221.2 21.1 L222.4 22.6 L223.9 22.1 L225.4 22.5 L226.8 21.8 L228.1 21.4 L229.5 20.9 L230.8 20.1 L232.3 20.4 L233.7 19.5 L235.2 20.9 L236.5 20.0 L238.4 19.9 L240.0 20.7 L240.9 21.7 L242.4 21.7 L242.9 23.2 L244.2 23.5 L245.3 24.5 L246.8 25.1 L247.7 26.3 L249.1 26.7 L249.6 28.3 L251.3 28.3 L251.9 29.8 L253.2 30.1 L254.0 31.3 L254.7 32.4 L256.1 32.6 L257.4 33.2 L259.0 33.1 L260.3 34.0 L262.1 34.5 L263.8 33.5 L264.3 32.0 L265.7 31.1 L266.6 29.8 L268.0 29.7 L269.3 29.4 L270.6 29.0 L271.6 27.6 L273.1 27.1 L274.8 26.9 L275.5 25.8 L276.6 25.2 L277.0 23.8 L278.3 23.4 L279.3 22.3 L281.0 22.0 L281.8 20.6 L283.4 21.0 L284.6 20.2 L286.0 19.6 L287.4 19.9 L288.8 19.7 L290.2 19.0 L291.6 19.6 L292.8 18.6 L294.2 18.4 L295.9 19.7 L297.2 18.8 L298.6 19.0 L300.0 19.4 L301.3 17.7 L302.8 18.5 L304.1 18.7 L305.5 18.4 L306.9 18.9 L308.3 18.2 L309.7 18.5 L311.2 19.3 L312.5 17.6 L313.9 18.3 L315.3 18.2 L317.1 18.6 L318.4 22.7 L318.8 24.3 L319.0 26.0 L319.5 27.6 L320.8 29.4 L322.3 31.1 L323.4 32.3 L323.7 33.9 L323.9 36.0 L323.0 38.1 L322.4 39.5 L321.8 41.0 L320.9 42.3 L319.6 43.8 L318.8 45.8 L318.0 47.8 L317.4 49.9 L317.4 51.0 L316.3 52.7 L315.3 54.5 L314.6 56.1 L313.8 57.7 L313.2 59.4 L313.4 61.1 L312.8 62.7 L312.5 64.3 L313.2 66.3 L313.2 68.5 L314.4 70.2 L316.0 71.3 L318.1 73.4 L317.5 75.3 L316.0 76.9 L315.4 78.9 L315.3 81.1 L316.4 83.0 L316.7 85.3 L317.3 87.1 L318.1 88.8 L317.6 90.6 L316.7 92.3 L317.9 93.6 L318.8 95.1 L321.6 95.8 L323.7 97.8 L322.1 98.6 L320.9 99.9 L319.4 101.1 L317.4 101.3 L317.1 103.3 L316.0 104.8 L317.5 106.6 L319.5 107.6 L318.8 109.4 L318.1 111.1 L317.4 113.1 L316.0 114.6 L314.9 116.6 L314.6 118.8 L313.8 120.9 L313.9 123.1 L314.6 124.9 L314.5 126.8 L314.6 128.7 L314.8 130.6 L314.4 132.4 L313.9 134.3 L314.3 136.2 L315.2 137.9 L315.3 139.9 L316.2 141.7 L317.4 143.4 L317.4 145.1 L316.8 146.7 L316.0 148.3 L315.5 150.1 L315.7 152.0 L315.3 153.9 L315.0 155.7 L314.3 157.6 L313.9 159.5 L313.5 161.3 L313.1 163.2 L312.5 165.1 L312.5 166.8 L311.4 168.3 L311.1 169.9 L309.7 171.5 L309.0 173.4 L308.7 174.2 L308.3 175.3 L307.8 176.5 L307.3 177.8 L306.9 179.0 L306.7 180.2 L306.6 181.3 L306.6 182.4 L306.5 183.5 L306.2 184.6 L305.9 185.8 L305.5 187.0 L305.1 188.1 L304.6 189.2 L304.1 190.2 L303.7 191.1 L303.2 191.8 L302.7 192.4 L302.1 193.0 L301.4 193.7 L300.4 194.5 L299.3 195.3 L298.2 196.1 L297.0 196.9 L295.8 197.5 L294.6 197.9 L293.4 198.2 L292.2 198.4 L291.0 198.8 L289.7 199.3 L288.4 200.1 L287.0 201.0 L285.6 202.0 L284.1 203.1 L282.7 204.2 L281.3 205.2 L279.9 206.3 L278.5 207.5 L277.1 208.6 L275.7 209.8 L274.3 211.0 L272.9 212.2 L271.5 213.4 L270.1 214.7 L268.7 216.1 L267.3 217.5 L265.9 219.0 L264.5 220.6 L263.1 222.2 L261.7 223.8 L260.3 225.4 L258.9 227.1 L257.5 228.8 L256.1 230.5 L254.7 232.2 L253.4 233.9 L252.0 235.6 L250.7 237.4 L249.7 238.8 L248.9 239.8 L247.5 239.4 L246.7 238.2 L245.5 237.5 L244.3 237.0 L243.4 235.7 L241.6 235.5 L240.8 234.2 L239.4 233.9 L238.2 233.3 L237.3 232.2 L235.9 232.7 L234.4 232.1 L233.1 232.6 L231.9 233.6 L230.3 233.6 L228.9 234.2 L228.1 235.6 L226.8 236.3 L228.1 237.6 L228.9 239.1 L229.7 240.5 L230.3 241.9 L229.7 240.7 L228.5 240.0 L227.5 239.1 L225.7 238.6 L224.7 237.0 L224.0 235.4 L224.0 233.5 L224.7 232.2 L226.1 231.5 L227.6 231.6 L228.9 230.8 L230.5 230.0 L231.7 228.7 L232.4 227.0 L232.4 225.2 L233.8 224.0 L234.5 222.4 L235.3 220.8 L236.0 219.3 L235.9 217.5 L236.6 215.8 L236.6 214.0 L236.0 212.6 L236.6 211.1 L235.9 209.8 L235.8 208.1 L236.2 206.5 L235.9 204.9 L236.6 203.8 L237.2 202.5 L238.0 201.4 L239.0 200.3 L240.2 199.4 L241.5 198.6 L242.3 197.0 L243.6 195.8 L244.4 194.6 L246.1 194.8 L247.1 193.7 L248.9 193.7 L249.4 188.8 L248.1 187.7 L248.4 185.8 L247.3 184.6 L246.0 184.0 L244.7 183.3 L243.1 183.9 L241.6 183.8 L240.2 183.4 L238.9 182.5 L237.6 181.7 L236.2 181.5 L234.7 181.8 L233.3 181.1 L231.9 180.9 L230.6 181.6 L229.1 181.1 L227.8 181.8 L226.6 183.0 L225.2 183.5 L223.6 183.6 L222.4 182.4 L220.7 182.9 L219.2 182.7 L218.0 181.8 L216.6 181.2 L215.2 181.5 L213.8 182.4 L212.4 181.8 L211.0 181.3 L209.6 180.8 L208.0 181.3 L206.8 180.4 L205.4 179.8 L203.9 180.6 L202.5 179.9 L201.2 179.4 L199.7 179.4 L198.8 178.6 L198.5 176.7 L197.0 176.9 L195.9 175.8 L195.8 174.0 L194.2 173.4 L193.4 172.5 L193.0 171.3 L192.7 170.0 L191.7 169.3 L190.7 168.5 L189.4 167.9 L189.4 166.4 L188.8 165.4 L187.4 164.9 L187.2 163.6 L185.7 163.0 L186.0 161.0 L184.6 160.4 L183.7 159.4 L182.5 158.7 L182.2 157.3 L181.2 156.5 L180.9 155.2 L180.9 153.7 L179.8 152.7 L178.6 151.8 L178.8 150.3 L177.7 149.3 L176.0 150.2 L174.9 149.0 L173.7 148.3 L172.5 147.5 L172.6 145.6 L171.4 144.8 L170.0 144.5 L169.7 143.1 L168.3 142.8 L167.9 141.3 L166.9 140.7 L166.0 139.7 L164.8 139.2 L163.7 138.5 L162.6 137.9 L161.6 137.2 L160.5 136.6 L159.5 135.8 L158.6 134.6 L156.9 134.2 L156.4 132.6 L155.3 131.6 L154.0 131.3 L153.6 129.6 L152.7 128.8 L151.1 128.8 L149.6 128.7 L148.7 127.9 L148.2 126.3 L146.9 126.0 L146.0 125.1 L144.3 125.3 L144.0 123.5 L142.8 123.2 L142.2 121.8 L140.6 121.9 L139.4 121.3 L138.6 120.4 L137.5 119.6 L136.7 118.3 L135.1 118.3 L133.6 118.5 L132.2 118.2 L130.9 117.6 L129.7 118.6 L128.0 118.3 L126.7 119.0 L125.3 118.6 L123.7 118.5 L122.5 117.6 L121.3 117.0 L119.9 116.9 L119.1 115.8 L118.3 114.8 L118.1 113.1 L116.7 112.6 L115.3 111.9 L114.8 110.6 L113.8 109.1 L111.9 109.4 L110.6 108.5 L109.0 108.2 L107.4 107.9 L106.4 106.4 L104.9 106.8 L103.5 106.5 L102.2 105.7 L100.6 105.4 L99.7 103.6 L98.0 103.6 L96.7 104.5 L95.3 105.0 L93.8 105.0 L92.6 104.4 L91.6 103.4 L90.0 104.2 L89.1 102.9 L87.7 103.0 L86.3 103.4 L84.9 103.3 L83.5 103.4 L82.1 103.7 L81.1 102.3 L79.5 101.9 L77.9 101.6 L76.5 102.1 L74.9 101.9 L73.7 103.0 L72.5 102.5 L71.5 101.8 L71.1 100.2 L69.5 100.2 L68.2 99.4 L67.0 98.4 L65.3 98.1 L63.9 98.1 L62.5 97.4 L61.3 96.3 L59.7 96.7 L58.5 98.0 L57.6 99.5 L56.5 98.6 L57.0 96.8 L55.5 96.0 L55.0 94.7 L54.3 93.5 L54.1 92.1 L52.1 93.2 L51.5 94.4 L50.8 95.5 L49.8 96.3 L48.6 96.7 L46.9 96.0 L45.1 96.0 L44.1 97.1 L42.9 97.4 L41.6 97.4 L40.4 98.2 L39.2 98.8 L38.1 99.5 L37.4 98.4 L37.6 97.0 L36.7 96.0 L35.4 95.4 L34.6 94.3 L33.9 93.2 L32.6 94.4 L31.1 95.3 L29.8 96.3 L28.4 96.3 L26.9 96.0 L26.7 97.5 L25.5 98.1 L23.8 97.4 L22.0 97.4 L21.2 98.9 L19.5 99.0 L18.5 100.2 L16.9 100.0 L15.7 98.8 L13.9 98.9 L12.2 99.5 L11.0 98.2 L9.4 97.4 L7.9 97.4 L6.6 96.7 L7.9 95.9 L7.3 94.0 L8.7 93.2 L9.7 92.0 L9.6 90.2 L10.8 89.0 L12.2 88.0 L11.5 85.9 L12.9 84.8 L14.1 83.7 L14.5 82.2 L15.0 80.6 L15.8 79.3 L16.2 78.0 L15.7 76.5 L14.6 75.2 L14.1 73.8 L13.6 72.3 L13.4 70.8 L12.3 69.6 L12.2 68.1 L11.6 66.7 L11.4 65.3 L12.2 63.8 L11.5 62.5 L12.2 61.1 L12.2 59.7 L11.4 58.2 L11.9 56.9 L12.8 55.6 L12.4 54.1 L12.2 52.6 L12.9 51.3 L13.1 49.9 L13.3 48.5 L13.0 47.0 L13.9 45.7 L14.3 44.3 L14.4 42.8 L15.0 41.5 L15.6 40.4 L16.7 39.5 L16.8 38.2Z" fill="none" stroke="#07122b" stroke-width="0.8" stroke-linejoin="round"/>
<path d="M69.5 42.9 L69.5 44.8 L70.1 46.7 L70.7 48.5 L71.0 50.4 L71.4 52.3 L72.3 54.1 L73.3 55.7 L73.7 57.6 L72.7 59.1 L71.5 60.6 L70.9 62.5 L69.2 62.8 L67.6 63.8 L66.0 64.6 L66.8 66.1 L67.1 67.8 L67.4 69.5 L67.4 71.7 L68.4 73.7 L68.5 75.5 L67.9 77.2 L66.7 78.2 L65.0 78.6 L63.9 79.9 L61.4 81.3 L61.8 83.0 L62.3 84.6 L62.3 86.2 L62.8 88.1 L62.5 90.0 L63.2 91.8 L64.1 93.6 L64.7 95.5 L65.3 97.4 M150.4 65.0 L150.0 66.7 L149.0 68.1 L148.0 69.4 L147.1 70.8 L146.2 72.3 L147.7 73.6 L149.0 75.1 L147.5 75.6 L145.7 75.2 L144.1 75.8 L143.2 77.8 L142.8 79.9 L143.8 81.7 L144.8 83.4 L146.2 85.2 L147.6 86.9 L147.6 89.0 L145.5 89.1 L143.4 89.1 L141.4 88.3 L139.3 88.8 L137.2 89.0 L135.8 91.7 L135.4 93.3 L135.7 95.0 L135.1 96.6 L133.7 97.5 L132.9 99.1 L131.6 100.1 L131.1 102.3 L130.2 104.3 L131.3 106.2 L131.6 108.5 L130.1 110.4 L129.5 112.7 L127.3 113.5 L125.3 114.8 L123.9 115.9 L123.2 117.6 M160.7 60.4 L162.3 62.5 L163.5 63.7 L165.1 64.1 L167.9 65.5 L169.2 64.4 L170.5 63.4 L172.2 62.9 L174.1 62.9 L175.7 61.9 L177.6 63.1 L179.2 64.7 L181.2 65.8 L182.7 67.5 L184.0 68.6 L185.5 69.4 L185.5 67.7 L186.2 66.0 L185.7 64.3 L186.2 62.6 L187.8 63.8 L189.7 64.0 L191.4 63.3 L193.2 62.9 L194.5 64.1 L195.7 65.4 L197.4 66.1 L198.6 67.4 L199.9 68.8 L201.6 69.6 L203.2 71.2 L205.1 72.4 L203.2 73.9 L200.9 74.5 L199.8 76.0 L199.4 77.8 L198.8 79.4 L198.1 82.5 L197.4 84.3 L196.7 86.1 L195.3 87.5 L194.8 89.4 L196.5 90.2 L198.1 91.3 L199.9 91.9 L201.6 92.8 L203.5 93.1 L205.1 93.0 L206.7 93.0 L208.3 92.7 L209.9 92.2 L211.5 92.7 L213.1 91.9 L214.7 91.9 M214.7 91.9 L215.5 90.3 L216.0 88.7 L216.3 87.0 L215.9 85.2 L216.8 83.6 L217.1 81.9 L217.6 80.3 L217.6 78.6 L218.4 77.0 L219.0 76.6 L220.2 74.7 L221.8 73.1 L223.9 72.4 L226.0 71.7 L228.8 72.4 L228.1 70.6 L227.9 68.7 L227.4 66.8 L226.8 65.2 L226.7 63.5 L227.2 61.8 L226.8 60.1 L226.7 58.4 L227.0 56.8 L227.4 55.2 L227.4 53.5 L229.5 53.1 L231.6 52.8 L233.3 52.3 L235.1 52.6 L236.0 54.0 L237.2 55.2 L238.2 56.6 L239.3 57.7 L240.5 59.4 L241.4 61.2 L243.1 62.4 L244.2 64.0 L245.0 65.6 L246.3 66.8 L247.1 68.3 L248.0 69.7 L249.1 71.0 L249.9 69.5 L250.6 68.0 L251.9 66.8 L253.3 65.9 L254.8 65.2 L256.1 64.0 L257.1 62.2 L257.9 60.3 L258.9 58.4 L259.6 56.3 L260.1 54.1 L261.9 53.3 L263.9 52.8 L265.8 52.4 L267.8 52.0 L269.9 52.0 L272.0 51.3 L273.4 52.3 L274.6 53.4 L275.5 54.8 L276.9 56.8 L277.6 59.0 L279.6 59.1 L281.4 59.8 L283.2 60.4 L285.2 61.6 L287.4 62.5 L288.5 64.5 L290.2 66.0 L291.0 68.1 L291.6 70.2 L293.1 71.9 L294.4 73.7 L295.9 74.8 L297.3 76.1 L298.6 77.5 L300.2 78.8 L302.1 79.7 L302.4 81.8 L302.8 83.9 L302.3 86.0 L301.4 88.1 L302.8 90.0 L303.5 92.3 L304.6 94.2 L306.2 95.8 L307.9 96.0 L309.5 96.1 L311.1 95.8 L312.1 97.8 L312.5 99.9 L314.6 100.3 L316.7 100.6 M297.2 18.8 L295.5 19.2 L293.8 19.7 L292.3 20.6 L291.5 22.5 L290.2 24.1 L288.3 24.3 L287.0 25.8 L285.3 26.2 L284.2 27.5 L283.7 29.2 L282.5 30.4 L282.9 32.2 L283.9 33.9 L282.3 35.5 L280.4 36.7 L280.5 38.4 L281.1 40.2 L282.3 41.7 L283.9 43.0 L282.6 44.2 L281.8 45.8 L279.9 45.1 L278.2 44.0 L276.2 43.7 L274.2 42.8 L272.0 43.0 L270.1 44.3 L267.8 45.1 L266.4 46.8 L265.0 48.5 L266.0 50.6 L267.8 52.0 M306.2 95.8 L304.7 96.6 L302.8 96.8 L301.4 97.8 L299.8 98.4 L298.7 99.8 L297.0 100.2 L295.8 101.3 L294.0 101.9 L292.4 103.2 L290.3 103.0 L288.8 104.1 L287.1 104.7 L285.3 105.0 L283.5 105.3 L281.8 105.5 L280.1 106.2 L278.7 107.3 L276.9 107.6 L276.0 109.2 L275.2 110.8 L274.8 112.5 L274.8 114.2 L274.5 115.8 L274.8 117.4 L274.1 117.5 L273.3 119.1 L272.4 120.6 L272.0 122.4 L269.9 123.1 L267.8 123.1 L266.0 124.2 L264.1 125.0 L262.2 125.9 M214.7 91.9 L215.2 93.5 L216.4 94.8 L217.2 96.3 L217.6 97.9 L218.4 99.4 L220.2 100.3 L221.3 102.1 L222.9 103.3 L224.6 104.3 L226.3 104.7 L227.4 106.1 L228.9 106.8 L230.3 107.8 L231.6 108.9 L233.3 109.3 L234.2 110.9 L235.9 111.7 L236.8 113.3 L238.1 114.5 L239.2 115.9 L240.8 116.8 L242.3 117.5 L243.0 119.2 L244.7 119.8 L246.0 120.7 L247.0 122.2 L248.0 123.4 L249.5 124.2 L250.8 125.8 L252.7 126.6 L253.9 128.2 L255.7 129.2 L256.5 127.6 L258.0 126.6 L260.2 126.7 L262.2 125.9 M262.2 125.9 L263.1 128.1 L264.3 130.1 L264.8 132.0 L265.3 134.0 L266.4 135.7 L268.0 136.9 L269.5 138.2 L270.6 139.9 L271.8 141.3 L273.5 142.1 L274.8 143.4 L274.9 145.1 L274.5 146.9 L275.1 148.6 L274.8 150.4 L273.9 150.3 L272.5 151.8 L271.8 153.8 L270.9 155.2 L270.3 156.8 L269.0 158.0 L267.0 159.1 L265.5 160.8 L263.7 162.1 L262.0 163.6 L261.9 165.3 L260.6 166.6 L260.2 168.2 L259.9 169.9 L260.0 172.0 L260.6 174.1 L260.2 175.7 L259.7 177.3 L259.9 179.0 L260.2 180.9 L259.0 182.6 L259.2 184.6 L257.9 185.7 L256.9 187.2 L255.5 188.2 L254.3 189.5 L253.3 190.7 L251.9 191.7 L250.8 193.0 M274.8 150.4 L276.2 151.9 L276.9 153.9 L279.7 155.3 L281.7 156.4 L283.2 158.1 L284.6 157.2 L285.8 155.9 L287.4 155.3 L288.1 153.6 L289.5 152.5 L290.9 155.3 L292.1 156.6 L293.3 158.0 L294.4 159.5 L296.3 158.2 L298.6 157.4 L300.7 157.6 L302.8 158.1 L304.4 159.1 L306.2 159.5 L307.3 161.4 L307.6 163.7 L308.0 165.5 L308.1 167.4 L307.6 169.2 L307.7 171.1 L307.6 173.0 L306.9 174.8 M276.9 107.6 L279.0 108.0 L281.1 108.3 L283.2 110.4 L281.9 111.9 L280.4 113.2 L279.7 114.9 L279.7 116.7 L281.8 118.8 L283.4 118.4 L285.0 118.4 L286.7 118.1 L288.3 116.9 L290.2 116.0 L292.3 116.3 L294.4 116.7 L296.4 117.5 L298.6 117.4 L299.0 119.5 L298.6 121.6 L297.2 123.1 L296.3 125.0 L295.5 126.9 L294.4 128.7 L293.6 130.6 L292.0 132.2 L291.6 134.3 L291.4 136.2 L290.7 138.0 L290.4 139.9 L290.7 141.6 L290.9 143.4 L292.7 142.9 L294.4 142.0 L296.4 140.9 L298.6 139.9 L299.6 141.5 L300.0 143.4 L301.4 144.7 L302.8 146.2 L302.6 147.8 L302.0 149.4 L302.1 151.1 L301.3 153.1 L300.7 155.3 L298.6 157.4 M224.6 104.3 L223.0 104.8 L221.5 105.6 L220.0 106.4 L218.2 106.3 L216.7 107.3 L215.1 107.8 L213.4 108.1 L211.6 108.5 L209.7 108.6 L207.8 108.5 L206.0 109.3 L205.1 110.9 L203.7 112.1 L202.8 113.7 L202.3 115.5 L200.5 115.3 L198.8 115.1 L197.1 114.6 L195.6 113.5 L193.8 113.4 L192.1 113.3 L190.3 113.4 L188.0 114.0 L186.1 115.5 L184.3 116.9 L183.3 119.0 L181.8 119.8 L180.5 120.8 L179.1 121.8 L178.0 123.5 L176.3 124.6 L176.1 126.8 L174.9 128.8 L173.3 128.2 L171.7 128.1 L170.0 128.1 L168.5 127.1 L166.8 126.6 L165.1 126.0 L163.0 125.3 L162.5 127.3 L162.3 129.5 L161.5 131.5 L160.9 133.7 L159.5 135.8 M305.5 23.4 L306.6 25.3 L306.7 27.6 L307.5 29.6 L307.6 31.8 L308.1 33.5 L308.3 35.3 L307.5 36.9 L306.9 38.8 L308.6 39.9 L309.7 41.6 L311.7 42.3 L313.2 43.7 L315.2 44.8 L316.7 46.5 L317.2 48.6 L318.1 50.6" fill="none" stroke="#07122b" stroke-width="0.65" stroke-linejoin="round"/>
<path d="M1.9 0.5 L2.8 1.8 L3.2 3.5 L4.4 4.6 L5.2 5.8 L5.3 7.3 L5.3 8.7 L4.3 10.3 L4.4 12.1 L4.5 13.5 L5.4 14.7 L5.3 16.2 L6.3 17.5 L6.5 19.2 L7.7 20.3 L8.6 21.7 L9.9 22.8 L10.2 24.5 L10.3 26.0 L11.7 27.1 L11.9 28.6 L12.6 30.1 L13.4 31.5 L14.4 32.8 L15.3 34.2 L15.7 35.9 L17.1 37.0 M6.6 96.7 L4.5 96.0 L3.0 96.4 L1.6 96.8 L0.1 97.0" fill="none" stroke="#111" stroke-width="0.75"/>
<path d="M326.5 -0.4 L323.7 5.9 L320.9 12.2 L318.8 18.2 M248.9 239.8 L245.0 246.8 L241.5 252.4 L239.1 255.9" fill="none" stroke="#333" stroke-width="0.5"/>
<circle cx="320.9" cy="88.1" r="0.35" fill="#fff" stroke="#222" stroke-width="0.35"/>
<circle cx="327.9" cy="98.5" r="0.35" fill="#fff" stroke="#222" stroke-width="0.35"/>
<circle cx="331.4" cy="104.8" r="0.35" fill="#fff" stroke="#222" stroke-width="0.35"/>
<circle cx="323.7" cy="100.4" r="0.35" fill="#fff" stroke="#222" stroke-width="0.35"/>
<circle cx="332.1" cy="116.0" r="0.35" fill="#fff" stroke="#222" stroke-width="0.35"/>
<circle cx="326.5" cy="142.7" r="0.35" fill="#fff" stroke="#222" stroke-width="0.35"/>
<circle cx="329.3" cy="127.3" r="0.35" fill="#fff" stroke="#222" stroke-width="0.35"/>
<circle cx="319.5" cy="149.0" r="0.35" fill="#fff" stroke="#222" stroke-width="0.35"/>
<circle cx="312.5" cy="174.1" r="0.35" fill="#fff" stroke="#222" stroke-width="0.35"/>
<circle cx="309.0" cy="182.5" r="0.35" fill="#fff" stroke="#222" stroke-width="0.35"/>
<circle cx="325.1" cy="31.1" r="0.35" fill="#fff" stroke="#222" stroke-width="0.35"/>
<circle cx="322.3" cy="45.1" r="0.35" fill="#fff" stroke="#222" stroke-width="0.35"/>
<path d="M309.0 36.0 L312.5 35.3 L316.0 33.2 L319.5 32.5 L317.4 35.0 L313.9 37.4 L311.8 39.5 L309.7 38.8Z" fill="#fff" stroke="#101828" stroke-width="0.3"/>
<text x="7.7" y="8.5" font-size="6.17" font-weight="bold" fill="#0a0a0a" stroke="#0a0a0a" stroke-width="0.15">Climatologia de Precipitação - Outubro</text>
<rect x="14.90" y="159.20" width="6.70" height="15.82" fill="#05387a"/>
<rect x="14.90" y="174.82" width="6.70" height="15.82" fill="#044ca6"/>
<rect x="14.90" y="190.43" width="6.70" height="15.82" fill="#035be5"/>
<rect x="14.90" y="206.05" width="6.70" height="15.82" fill="#72b1fc"/>
<rect x="14.90" y="221.67" width="6.70" height="15.82" fill="#d2e7fe"/>
<rect x="14.90" y="237.28" width="6.70" height="15.82" fill="#fff"/>
<rect x="14.90" y="159.20" width="6.70" height="93.70" fill="none" stroke="#888" stroke-width="0.3"/>
<text x="21.5" y="161.35" font-size="4.3" font-weight="bold" fill="#000" stroke="#000" stroke-width="0.15">350</text>
<text x="21.5" y="176.35" font-size="4.3" font-weight="bold" fill="#000" stroke="#000" stroke-width="0.15">250</text>
<text x="21.5" y="191.25" font-size="4.3" font-weight="bold" fill="#000" stroke="#000" stroke-width="0.15">200</text>
<text x="21.5" y="206.35" font-size="4.3" font-weight="bold" fill="#000" stroke="#000" stroke-width="0.15">150</text>
<text x="21.5" y="221.25" font-size="4.3" font-weight="bold" fill="#000" stroke="#000" stroke-width="0.15">125</text>
<text x="21.5" y="237.45" font-size="4.3" font-weight="bold" fill="#000" stroke="#000" stroke-width="0.15">100</text>
<text x="21.5" y="252.55" font-size="4.3" font-weight="bold" fill="#000" stroke="#000" stroke-width="0.15">75</text>
<rect x="154.7" y="247.7" width="60.2" height="2.5" fill="#000"/>
<rect x="169.8" y="248.3" width="15" height="1.2" fill="#e4e4e4"/>
<text x="155.0" y="246.1" font-size="3.5" fill="#333" text-anchor="middle">0</text>
<text x="169.8" y="246.1" font-size="3.5" fill="#333" text-anchor="middle">20</text>
<text x="184.8" y="246.1" font-size="3.5" fill="#333" text-anchor="middle">50</text>
<text x="212.1" y="246.1" font-size="3.5" fill="#333">100 km</text>
<path d="M348.7 18.6 L352.2 8.1 L355.7 18.6 L352.2 15.8 Z" fill="#000"/>
<text x="352.4" y="7.3" font-size="2.6" fill="#222" text-anchor="middle">N</text>
<g transform="translate(313.80 208.20) scale(1.0000 0.9754)">
<rect x="0" y="0" width="44.3" height="44.8" rx="1.3" fill="#2f5a86"/>
<rect x="0" y="7.4" width="44.3" height="29.8" fill="#ff6302"/>
<path d="M14.8 10.8 L29.2 10.8 L33 14.9 L44.3 10.8 L44.3 19.6 L29.9 19.6 L26.1 16.1 L19.2 16.1 L13.5 23.7 L5.7 23.7 Z" fill="#fff"/>
<path d="M29.2 33.8 L14.8 33.8 L11 29.7 L0 33.8 L0 25 L14.1 25 L17.9 28.5 L24.8 28.5 L30.5 20.9 L38.3 20.9 Z" fill="#fff"/>
<path d="M22.2 17.7 L26.7 25.6 L17.8 25.6 Z" fill="#2f5a86"/>
<text x="2.1" y="5.6" font-size="4" font-weight="bold" fill="#fff" textLength="40.6" lengthAdjust="spacingAndGlyphs">PROTEÇÃO E DEFESA CIVIL</text>
<text x="2.1" y="42.4" font-size="4.7" font-weight="bold" fill="#fff" textLength="40.2" lengthAdjust="spacingAndGlyphs">SANTA CATARINA</text>
</g>
<text x="54.9" y="-3.0" font-size="2.7" fill="#555" text-anchor="middle">53° W</text>
<rect x="54.6" y="-1.9" width="0.5" height="1.9" fill="#555"/>
<text x="114.9" y="-3.0" font-size="2.7" fill="#555" text-anchor="middle">53° W</text>
<rect x="114.7" y="-1.9" width="0.5" height="1.9" fill="#555"/>
<text x="174.9" y="-3.0" font-size="2.7" fill="#555" text-anchor="middle">53° W</text>
<rect x="174.7" y="-1.9" width="0.5" height="1.9" fill="#555"/>
<text x="234.9" y="-3.0" font-size="2.7" fill="#555" text-anchor="middle">53° W</text>
<rect x="234.7" y="-1.9" width="0.5" height="1.9" fill="#555"/>
<text x="294.9" y="-3.0" font-size="2.7" fill="#555" text-anchor="middle">53° W</text>
<rect x="294.6" y="-1.9" width="0.5" height="1.9" fill="#555"/>
<text x="354.9" y="-3.0" font-size="2.7" fill="#555" text-anchor="middle">53° W</text>
<rect x="354.6" y="-1.9" width="0.5" height="1.9" fill="#555"/>
<rect x="361.6" y="20.9" width="1.9" height="0.5" fill="#555"/>
<text transform="translate(367.0 21.1) rotate(-90)" font-size="2.7" fill="#555" text-anchor="middle">27° S</text>
<rect x="361.6" y="87.3" width="1.9" height="0.5" fill="#555"/>
<text transform="translate(367.0 87.6) rotate(-90)" font-size="2.7" fill="#555" text-anchor="middle">27° S</text>
<rect x="361.6" y="153.8" width="1.9" height="0.5" fill="#555"/>
<text transform="translate(367.0 154.1) rotate(-90)" font-size="2.7" fill="#555" text-anchor="middle">27° S</text>
<rect x="361.6" y="220.3" width="1.9" height="0.5" fill="#555"/>
<text transform="translate(367.0 220.6) rotate(-90)" font-size="2.7" fill="#555" text-anchor="middle">27° S</text>
<rect x="0" y="0" width="361.6" height="255.7" fill="none" stroke="#3c3c3c" stroke-width="1.0"/>
</g>
<g transform="translate(259.40 309.30) scale(0.9817 0.9770)">
<rect x="0" y="0" width="361.6" height="255.7" fill="#fff"/>
<path d="M0.0 0.0 L326.5 -0.4 L323.7 5.9 L320.9 12.2 L318.8 18.2 L318.4 22.7 L319.5 27.6 L322.3 31.1 L323.7 33.9 L323.0 38.1 L320.9 42.3 L318.8 45.8 L317.4 49.9 L317.4 51.0 L315.3 54.5 L313.2 59.4 L312.5 64.3 L313.2 68.5 L316.0 71.3 L318.1 73.4 L316.0 76.9 L315.3 81.1 L316.7 85.3 L318.1 88.8 L316.7 92.3 L318.8 95.1 L321.6 95.8 L323.7 97.8 L320.9 99.9 L317.4 101.3 L316.0 104.8 L319.5 107.6 L318.1 111.1 L316.0 114.6 L314.6 118.8 L313.9 123.1 L314.6 128.7 L313.9 134.3 L315.3 139.9 L317.4 143.4 L316.0 148.3 L315.3 153.9 L313.9 159.5 L312.5 165.1 L311.1 169.9 L309.0 173.4 L309.0 173.4 L308.7 174.2 L308.3 175.3 L307.8 176.5 L307.3 177.8 L306.9 179.0 L306.7 180.2 L306.6 181.3 L306.6 182.4 L306.5 183.5 L306.2 184.6 L305.9 185.8 L305.5 187.0 L305.1 188.1 L304.6 189.2 L304.1 190.2 L303.7 191.1 L303.2 191.8 L302.7 192.4 L302.1 193.0 L301.4 193.7 L300.4 194.5 L299.3 195.3 L298.2 196.1 L297.0 196.9 L295.8 197.5 L294.6 197.9 L293.4 198.2 L292.2 198.4 L291.0 198.8 L289.7 199.3 L288.4 200.1 L287.0 201.0 L285.6 202.0 L284.1 203.1 L282.7 204.2 L281.3 205.2 L279.9 206.3 L278.5 207.5 L277.1 208.6 L275.7 209.8 L274.3 211.0 L272.9 212.2 L271.5 213.4 L270.1 214.7 L268.7 216.1 L267.3 217.5 L265.9 219.0 L264.5 220.6 L263.1 222.2 L261.7 223.8 L260.3 225.4 L258.9 227.1 L257.5 228.8 L256.1 230.5 L254.7 232.2 L253.4 233.9 L252.0 235.6 L250.7 237.4 L249.7 238.8 L248.9 239.8 L245.0 246.8 L241.5 252.4 L239.1 255.9 L0.0 255.7Z" fill="#e1e1e1"/>
<g clip-path="url(#cs)">
<rect x="0" y="0" width="361.6" height="255.7" fill="#035be5"/>
<path d="M132.2 57.1 L136.0 66.8 L141.1 77.0 L147.4 85.9 L157.5 89.7 L167.6 92.2 L175.2 99.9 L182.8 104.9 L187.9 115.1 L192.9 122.8 L200.2 112.6 L205.3 108.8 L206.6 99.9 L205.3 92.2 L204.0 85.9 L205.3 77.0 L209.1 69.3 L214.2 65.5 L221.8 62.5 L229.4 61.2 L236.9 59.2 L243.3 55.3 L248.3 57.9 L253.4 59.2 L255.9 50.3 L258.5 41.4 L262.3 33.7 L267.3 21.0 L267.3 -9.5 L153.4 -9.5 L132.2 -9.5Z" fill="#72b1fc"/>
<path d="M266.1 82.1 L272.4 85.9 L280.0 87.1 L286.3 89.7 L287.6 97.3 L285.0 102.4 L280.0 106.2 L277.5 112.6 L274.9 117.7 L271.1 122.8 L264.8 125.3 L255.2 128.8 L250.9 128.4 L246.6 129.4 L240.2 130.2 L238.8 133.1 L233.9 130.2 L238.1 124.8 L242.3 123.3 L240.9 118.3 L242.3 113.3 L244.5 110.0 L250.9 103.7 L255.9 98.6 L261.0 94.8 L264.8 89.7Z" fill="#72b1fc"/>
<path d="M330.6 66.8 L315.4 71.9 L311.6 74.4 L306.6 79.5 L301.5 83.3 L297.7 88.4 L301.5 92.2 L302.8 96.0 L299.0 99.9 L301.5 107.5 L302.8 115.1 L304.0 122.8 L305.3 129.1 L306.6 135.7 L305.3 126.1 L305.8 133.8 L299.4 138.1 L298.7 142.4 L301.6 145.9 L299.4 148.8 L290.9 152.4 L290.2 155.2 L293.7 159.5 L288.0 162.4 L283.8 165.5 L281.2 174.4 L278.7 184.6 L278.7 192.2 L277.5 199.8 L278.7 206.2 L278.7 220.2 L330.6 194.7Z" fill="#72b1fc"/>
<path d="M210.4 128.6 L212.9 137.5 L211.6 143.9 L219.2 142.6 L229.4 143.9 L234.4 151.5 L239.5 156.6 L243.3 160.4 L244.5 169.3 L244.5 176.9 L240.7 182.0 L229.4 194.7 L178.7 194.7 L191.4 165.5 L197.7 157.9 L204.0 148.9 L206.6 141.3 L207.8 133.7Z" fill="#72b1fc"/>
<path d="M238.8 59.1 L241.7 63.1 L245.2 68.1 L247.4 67.1 L246.9 61.7 L246.7 57.7 L244.5 55.3 L241.0 56.0Z" fill="#72b1fc"/>
<path d="M242.4 67.1 L245.2 67.7 L247.4 69.6 L245.9 70.3 L243.8 68.9Z" fill="#e4effd"/>
<path d="M252.4 63.8 L255.2 62.8 L257.3 65.3 L259.5 68.1 L257.3 67.4 L254.5 65.3Z" fill="#e4effd"/>
<path d="M260.9 74.3 L264.5 76.0 L262.3 77.2Z" fill="#e4effd"/>
</g>
<path d="M327.6 111.9 L329.2 113.9 L330.0 115.0 L330.7 116.3 L330.2 117.8 L329.6 119.4 L329.0 120.9 L328.3 122.3 L327.6 123.7 L327.1 125.1 L326.5 126.3 L326.0 127.7 L325.5 129.3 L324.6 130.8 L324.1 132.4 L323.8 134.4 L322.9 136.3 L323.3 138.7 L320.9 139.4 L320.1 141.8 L319.0 139.4 L318.6 137.9 L318.6 136.3 L318.7 134.7 L319.0 133.2 L319.1 131.2 L319.7 129.2 L320.5 127.7 L320.9 126.1 L321.0 124.1 L321.3 122.2 L321.3 120.6 L320.9 119.0 L320.5 117.0 L322.2 116.3 L323.7 115.1 L324.8 114.2 L326.0 113.5Z" fill="#72b1fc" stroke="#0a1730" stroke-width="0.6" stroke-linejoin="round"/>
<path d="M17.1 37.0 L19.2 37.6 L20.6 38.1 L22.0 38.7 L23.7 39.1 L25.5 39.4 L26.8 39.8 L27.8 38.7 L29.0 38.4 L30.1 37.9 L31.4 37.4 L32.5 36.7 L34.3 36.3 L36.0 37.0 L37.4 37.2 L38.8 37.3 L39.5 38.4 L40.3 39.5 L41.6 40.1 L43.1 40.4 L44.1 41.5 L45.1 42.6 L46.6 42.7 L47.1 44.4 L48.6 44.6 L50.2 45.3 L52.1 45.4 L53.0 43.7 L54.8 43.2 L56.4 43.7 L57.6 42.6 L59.3 43.7 L61.1 43.2 L62.6 43.2 L64.0 43.0 L65.3 42.6 L66.8 42.1 L68.2 42.0 L69.5 42.9 L70.9 43.3 L72.5 42.9 L73.7 44.0 L75.3 44.0 L76.7 44.5 L77.9 45.4 L79.5 45.0 L80.7 46.0 L82.1 46.4 L83.6 46.7 L84.7 47.8 L86.3 47.8 L87.7 48.2 L89.1 48.3 L90.5 48.0 L91.9 48.2 L93.3 47.8 L94.9 48.0 L96.5 48.1 L98.0 48.8 L99.5 49.5 L100.8 49.4 L102.2 48.5 L103.4 49.5 L104.9 49.7 L106.4 49.9 L107.6 50.5 L108.8 51.3 L109.8 52.2 L110.6 53.4 L112.0 53.5 L112.4 55.1 L113.8 55.3 L114.8 56.2 L116.0 57.1 L117.6 56.6 L119.0 57.2 L120.2 58.2 L121.7 58.3 L123.2 58.0 L124.4 56.9 L125.9 56.9 L127.4 57.2 L128.8 57.8 L130.2 56.9 L131.6 56.9 L133.0 57.6 L134.3 56.5 L135.8 56.6 L137.4 56.4 L138.5 57.7 L140.0 58.0 L141.3 58.6 L142.8 58.0 L144.1 58.5 L145.7 58.8 L146.6 60.0 L147.6 61.1 L147.7 62.5 L148.7 63.3 L150.3 63.6 L150.4 65.0 L151.2 63.4 L152.5 62.5 L153.8 61.4 L155.1 61.0 L156.7 61.3 L158.2 61.5 L159.2 60.2 L160.7 60.4 L160.8 59.0 L160.8 57.6 L160.9 56.2 L160.0 54.9 L160.4 53.2 L159.5 52.0 L158.4 51.0 L158.7 49.4 L157.4 48.6 L157.4 47.1 L157.7 45.8 L157.7 44.5 L158.1 43.3 L158.8 42.2 L160.3 41.8 L161.1 40.7 L161.6 39.4 L162.5 38.2 L163.8 37.5 L165.5 37.4 L166.4 35.6 L168.0 35.4 L169.3 34.7 L171.0 35.0 L172.2 34.0 L173.6 34.4 L175.1 33.8 L176.4 34.7 L177.3 36.4 L179.2 36.8 L180.4 35.6 L182.0 35.4 L183.5 35.3 L184.8 36.1 L186.2 35.8 L187.0 34.4 L188.3 34.0 L189.5 33.0 L191.1 32.6 L191.2 31.0 L191.9 29.9 L193.2 29.1 L194.0 27.7 L194.2 26.1 L195.3 24.9 L196.3 24.1 L197.0 22.9 L198.1 22.1 L199.1 20.6 L200.2 19.3 L200.7 20.9 L202.3 21.4 L203.4 21.0 L204.6 20.9 L205.8 20.4 L206.7 21.5 L208.3 21.0 L209.3 22.1 L210.6 22.6 L210.6 24.4 L212.1 24.9 L212.7 26.3 L214.1 27.0 L214.5 25.6 L215.1 24.4 L216.2 23.5 L217.6 23.1 L219.0 22.7 L219.7 21.4 L221.2 21.1 L222.4 22.6 L223.9 22.1 L225.4 22.5 L226.8 21.8 L228.1 21.4 L229.5 20.9 L230.8 20.1 L232.3 20.4 L233.7 19.5 L235.2 20.9 L236.5 20.0 L238.4 19.9 L240.0 20.7 L240.9 21.7 L242.4 21.7 L242.9 23.2 L244.2 23.5 L245.3 24.5 L246.8 25.1 L247.7 26.3 L249.1 26.7 L249.6 28.3 L251.3 28.3 L251.9 29.8 L253.2 30.1 L254.0 31.3 L254.7 32.4 L256.1 32.6 L257.4 33.2 L259.0 33.1 L260.3 34.0 L262.1 34.5 L263.8 33.5 L264.3 32.0 L265.7 31.1 L266.6 29.8 L268.0 29.7 L269.3 29.4 L270.6 29.0 L271.6 27.6 L273.1 27.1 L274.8 26.9 L275.5 25.8 L276.6 25.2 L277.0 23.8 L278.3 23.4 L279.3 22.3 L281.0 22.0 L281.8 20.6 L283.4 21.0 L284.6 20.2 L286.0 19.6 L287.4 19.9 L288.8 19.7 L290.2 19.0 L291.6 19.6 L292.8 18.6 L294.2 18.4 L295.9 19.7 L297.2 18.8 L298.6 19.0 L300.0 19.4 L301.3 17.7 L302.8 18.5 L304.1 18.7 L305.5 18.4 L306.9 18.9 L308.3 18.2 L309.7 18.5 L311.2 19.3 L312.5 17.6 L313.9 18.3 L315.3 18.2 L317.1 18.6 L318.4 22.7 L318.8 24.3 L319.0 26.0 L319.5 27.6 L320.8 29.4 L322.3 31.1 L323.4 32.3 L323.7 33.9 L323.9 36.0 L323.0 38.1 L322.4 39.5 L321.8 41.0 L320.9 42.3 L319.6 43.8 L318.8 45.8 L318.0 47.8 L317.4 49.9 L317.4 51.0 L316.3 52.7 L315.3 54.5 L314.6 56.1 L313.8 57.7 L313.2 59.4 L313.4 61.1 L312.8 62.7 L312.5 64.3 L313.2 66.3 L313.2 68.5 L314.4 70.2 L316.0 71.3 L318.1 73.4 L317.5 75.3 L316.0 76.9 L315.4 78.9 L315.3 81.1 L316.4 83.0 L316.7 85.3 L317.3 87.1 L318.1 88.8 L317.6 90.6 L316.7 92.3 L317.9 93.6 L318.8 95.1 L321.6 95.8 L323.7 97.8 L322.1 98.6 L320.9 99.9 L319.4 101.1 L317.4 101.3 L317.1 103.3 L316.0 104.8 L317.5 106.6 L319.5 107.6 L318.8 109.4 L318.1 111.1 L317.4 113.1 L316.0 114.6 L314.9 116.6 L314.6 118.8 L313.8 120.9 L313.9 123.1 L314.6 124.9 L314.5 126.8 L314.6 128.7 L314.8 130.6 L314.4 132.4 L313.9 134.3 L314.3 136.2 L315.2 137.9 L315.3 139.9 L316.2 141.7 L317.4 143.4 L317.4 145.1 L316.8 146.7 L316.0 148.3 L315.5 150.1 L315.7 152.0 L315.3 153.9 L315.0 155.7 L314.3 157.6 L313.9 159.5 L313.5 161.3 L313.1 163.2 L312.5 165.1 L312.5 166.8 L311.4 168.3 L311.1 169.9 L309.7 171.5 L309.0 173.4 L308.7 174.2 L308.3 175.3 L307.8 176.5 L307.3 177.8 L306.9 179.0 L306.7 180.2 L306.6 181.3 L306.6 182.4 L306.5 183.5 L306.2 184.6 L305.9 185.8 L305.5 187.0 L305.1 188.1 L304.6 189.2 L304.1 190.2 L303.7 191.1 L303.2 191.8 L302.7 192.4 L302.1 193.0 L301.4 193.7 L300.4 194.5 L299.3 195.3 L298.2 196.1 L297.0 196.9 L295.8 197.5 L294.6 197.9 L293.4 198.2 L292.2 198.4 L291.0 198.8 L289.7 199.3 L288.4 200.1 L287.0 201.0 L285.6 202.0 L284.1 203.1 L282.7 204.2 L281.3 205.2 L279.9 206.3 L278.5 207.5 L277.1 208.6 L275.7 209.8 L274.3 211.0 L272.9 212.2 L271.5 213.4 L270.1 214.7 L268.7 216.1 L267.3 217.5 L265.9 219.0 L264.5 220.6 L263.1 222.2 L261.7 223.8 L260.3 225.4 L258.9 227.1 L257.5 228.8 L256.1 230.5 L254.7 232.2 L253.4 233.9 L252.0 235.6 L250.7 237.4 L249.7 238.8 L248.9 239.8 L247.5 239.4 L246.7 238.2 L245.5 237.5 L244.3 237.0 L243.4 235.7 L241.6 235.5 L240.8 234.2 L239.4 233.9 L238.2 233.3 L237.3 232.2 L235.9 232.7 L234.4 232.1 L233.1 232.6 L231.9 233.6 L230.3 233.6 L228.9 234.2 L228.1 235.6 L226.8 236.3 L228.1 237.6 L228.9 239.1 L229.7 240.5 L230.3 241.9 L229.7 240.7 L228.5 240.0 L227.5 239.1 L225.7 238.6 L224.7 237.0 L224.0 235.4 L224.0 233.5 L224.7 232.2 L226.1 231.5 L227.6 231.6 L228.9 230.8 L230.5 230.0 L231.7 228.7 L232.4 227.0 L232.4 225.2 L233.8 224.0 L234.5 222.4 L235.3 220.8 L236.0 219.3 L235.9 217.5 L236.6 215.8 L236.6 214.0 L236.0 212.6 L236.6 211.1 L235.9 209.8 L235.8 208.1 L236.2 206.5 L235.9 204.9 L236.6 203.8 L237.2 202.5 L238.0 201.4 L239.0 200.3 L240.2 199.4 L241.5 198.6 L242.3 197.0 L243.6 195.8 L244.4 194.6 L246.1 194.8 L247.1 193.7 L248.9 193.7 L249.4 188.8 L248.1 187.7 L248.4 185.8 L247.3 184.6 L246.0 184.0 L244.7 183.3 L243.1 183.9 L241.6 183.8 L240.2 183.4 L238.9 182.5 L237.6 181.7 L236.2 181.5 L234.7 181.8 L233.3 181.1 L231.9 180.9 L230.6 181.6 L229.1 181.1 L227.8 181.8 L226.6 183.0 L225.2 183.5 L223.6 183.6 L222.4 182.4 L220.7 182.9 L219.2 182.7 L218.0 181.8 L216.6 181.2 L215.2 181.5 L213.8 182.4 L212.4 181.8 L211.0 181.3 L209.6 180.8 L208.0 181.3 L206.8 180.4 L205.4 179.8 L203.9 180.6 L202.5 179.9 L201.2 179.4 L199.7 179.4 L198.8 178.6 L198.5 176.7 L197.0 176.9 L195.9 175.8 L195.8 174.0 L194.2 173.4 L193.4 172.5 L193.0 171.3 L192.7 170.0 L191.7 169.3 L190.7 168.5 L189.4 167.9 L189.4 166.4 L188.8 165.4 L187.4 164.9 L187.2 163.6 L185.7 163.0 L186.0 161.0 L184.6 160.4 L183.7 159.4 L182.5 158.7 L182.2 157.3 L181.2 156.5 L180.9 155.2 L180.9 153.7 L179.8 152.7 L178.6 151.8 L178.8 150.3 L177.7 149.3 L176.0 150.2 L174.9 149.0 L173.7 148.3 L172.5 147.5 L172.6 145.6 L171.4 144.8 L170.0 144.5 L169.7 143.1 L168.3 142.8 L167.9 141.3 L166.9 140.7 L166.0 139.7 L164.8 139.2 L163.7 138.5 L162.6 137.9 L161.6 137.2 L160.5 136.6 L159.5 135.8 L158.6 134.6 L156.9 134.2 L156.4 132.6 L155.3 131.6 L154.0 131.3 L153.6 129.6 L152.7 128.8 L151.1 128.8 L149.6 128.7 L148.7 127.9 L148.2 126.3 L146.9 126.0 L146.0 125.1 L144.3 125.3 L144.0 123.5 L142.8 123.2 L142.2 121.8 L140.6 121.9 L139.4 121.3 L138.6 120.4 L137.5 119.6 L136.7 118.3 L135.1 118.3 L133.6 118.5 L132.2 118.2 L130.9 117.6 L129.7 118.6 L128.0 118.3 L126.7 119.0 L125.3 118.6 L123.7 118.5 L122.5 117.6 L121.3 117.0 L119.9 116.9 L119.1 115.8 L118.3 114.8 L118.1 113.1 L116.7 112.6 L115.3 111.9 L114.8 110.6 L113.8 109.1 L111.9 109.4 L110.6 108.5 L109.0 108.2 L107.4 107.9 L106.4 106.4 L104.9 106.8 L103.5 106.5 L102.2 105.7 L100.6 105.4 L99.7 103.6 L98.0 103.6 L96.7 104.5 L95.3 105.0 L93.8 105.0 L92.6 104.4 L91.6 103.4 L90.0 104.2 L89.1 102.9 L87.7 103.0 L86.3 103.4 L84.9 103.3 L83.5 103.4 L82.1 103.7 L81.1 102.3 L79.5 101.9 L77.9 101.6 L76.5 102.1 L74.9 101.9 L73.7 103.0 L72.5 102.5 L71.5 101.8 L71.1 100.2 L69.5 100.2 L68.2 99.4 L67.0 98.4 L65.3 98.1 L63.9 98.1 L62.5 97.4 L61.3 96.3 L59.7 96.7 L58.5 98.0 L57.6 99.5 L56.5 98.6 L57.0 96.8 L55.5 96.0 L55.0 94.7 L54.3 93.5 L54.1 92.1 L52.1 93.2 L51.5 94.4 L50.8 95.5 L49.8 96.3 L48.6 96.7 L46.9 96.0 L45.1 96.0 L44.1 97.1 L42.9 97.4 L41.6 97.4 L40.4 98.2 L39.2 98.8 L38.1 99.5 L37.4 98.4 L37.6 97.0 L36.7 96.0 L35.4 95.4 L34.6 94.3 L33.9 93.2 L32.6 94.4 L31.1 95.3 L29.8 96.3 L28.4 96.3 L26.9 96.0 L26.7 97.5 L25.5 98.1 L23.8 97.4 L22.0 97.4 L21.2 98.9 L19.5 99.0 L18.5 100.2 L16.9 100.0 L15.7 98.8 L13.9 98.9 L12.2 99.5 L11.0 98.2 L9.4 97.4 L7.9 97.4 L6.6 96.7 L7.9 95.9 L7.3 94.0 L8.7 93.2 L9.7 92.0 L9.6 90.2 L10.8 89.0 L12.2 88.0 L11.5 85.9 L12.9 84.8 L14.1 83.7 L14.5 82.2 L15.0 80.6 L15.8 79.3 L16.2 78.0 L15.7 76.5 L14.6 75.2 L14.1 73.8 L13.6 72.3 L13.4 70.8 L12.3 69.6 L12.2 68.1 L11.6 66.7 L11.4 65.3 L12.2 63.8 L11.5 62.5 L12.2 61.1 L12.2 59.7 L11.4 58.2 L11.9 56.9 L12.8 55.6 L12.4 54.1 L12.2 52.6 L12.9 51.3 L13.1 49.9 L13.3 48.5 L13.0 47.0 L13.9 45.7 L14.3 44.3 L14.4 42.8 L15.0 41.5 L15.6 40.4 L16.7 39.5 L16.8 38.2Z" fill="none" stroke="#07122b" stroke-width="0.8" stroke-linejoin="round"/>
<path d="M69.5 42.9 L69.5 44.8 L70.1 46.7 L70.7 48.5 L71.0 50.4 L71.4 52.3 L72.3 54.1 L73.3 55.7 L73.7 57.6 L72.7 59.1 L71.5 60.6 L70.9 62.5 L69.2 62.8 L67.6 63.8 L66.0 64.6 L66.8 66.1 L67.1 67.8 L67.4 69.5 L67.4 71.7 L68.4 73.7 L68.5 75.5 L67.9 77.2 L66.7 78.2 L65.0 78.6 L63.9 79.9 L61.4 81.3 L61.8 83.0 L62.3 84.6 L62.3 86.2 L62.8 88.1 L62.5 90.0 L63.2 91.8 L64.1 93.6 L64.7 95.5 L65.3 97.4 M150.4 65.0 L150.0 66.7 L149.0 68.1 L148.0 69.4 L147.1 70.8 L146.2 72.3 L147.7 73.6 L149.0 75.1 L147.5 75.6 L145.7 75.2 L144.1 75.8 L143.2 77.8 L142.8 79.9 L143.8 81.7 L144.8 83.4 L146.2 85.2 L147.6 86.9 L147.6 89.0 L145.5 89.1 L143.4 89.1 L141.4 88.3 L139.3 88.8 L137.2 89.0 L135.8 91.7 L135.4 93.3 L135.7 95.0 L135.1 96.6 L133.7 97.5 L132.9 99.1 L131.6 100.1 L131.1 102.3 L130.2 104.3 L131.3 106.2 L131.6 108.5 L130.1 110.4 L129.5 112.7 L127.3 113.5 L125.3 114.8 L123.9 115.9 L123.2 117.6 M160.7 60.4 L162.3 62.5 L163.5 63.7 L165.1 64.1 L167.9 65.5 L169.2 64.4 L170.5 63.4 L172.2 62.9 L174.1 62.9 L175.7 61.9 L177.6 63.1 L179.2 64.7 L181.2 65.8 L182.7 67.5 L184.0 68.6 L185.5 69.4 L185.5 67.7 L186.2 66.0 L185.7 64.3 L186.2 62.6 L187.8 63.8 L189.7 64.0 L191.4 63.3 L193.2 62.9 L194.5 64.1 L195.7 65.4 L197.4 66.1 L198.6 67.4 L199.9 68.8 L201.6 69.6 L203.2 71.2 L205.1 72.4 L203.2 73.9 L200.9 74.5 L199.8 76.0 L199.4 77.8 L198.8 79.4 L198.1 82.5 L197.4 84.3 L196.7 86.1 L195.3 87.5 L194.8 89.4 L196.5 90.2 L198.1 91.3 L199.9 91.9 L201.6 92.8 L203.5 93.1 L205.1 93.0 L206.7 93.0 L208.3 92.7 L209.9 92.2 L211.5 92.7 L213.1 91.9 L214.7 91.9 M214.7 91.9 L215.5 90.3 L216.0 88.7 L216.3 87.0 L215.9 85.2 L216.8 83.6 L217.1 81.9 L217.6 80.3 L217.6 78.6 L218.4 77.0 L219.0 76.6 L220.2 74.7 L221.8 73.1 L223.9 72.4 L226.0 71.7 L228.8 72.4 L228.1 70.6 L227.9 68.7 L227.4 66.8 L226.8 65.2 L226.7 63.5 L227.2 61.8 L226.8 60.1 L226.7 58.4 L227.0 56.8 L227.4 55.2 L227.4 53.5 L229.5 53.1 L231.6 52.8 L233.3 52.3 L235.1 52.6 L236.0 54.0 L237.2 55.2 L238.2 56.6 L239.3 57.7 L240.5 59.4 L241.4 61.2 L243.1 62.4 L244.2 64.0 L245.0 65.6 L246.3 66.8 L247.1 68.3 L248.0 69.7 L249.1 71.0 L249.9 69.5 L250.6 68.0 L251.9 66.8 L253.3 65.9 L254.8 65.2 L256.1 64.0 L257.1 62.2 L257.9 60.3 L258.9 58.4 L259.6 56.3 L260.1 54.1 L261.9 53.3 L263.9 52.8 L265.8 52.4 L267.8 52.0 L269.9 52.0 L272.0 51.3 L273.4 52.3 L274.6 53.4 L275.5 54.8 L276.9 56.8 L277.6 59.0 L279.6 59.1 L281.4 59.8 L283.2 60.4 L285.2 61.6 L287.4 62.5 L288.5 64.5 L290.2 66.0 L291.0 68.1 L291.6 70.2 L293.1 71.9 L294.4 73.7 L295.9 74.8 L297.3 76.1 L298.6 77.5 L300.2 78.8 L302.1 79.7 L302.4 81.8 L302.8 83.9 L302.3 86.0 L301.4 88.1 L302.8 90.0 L303.5 92.3 L304.6 94.2 L306.2 95.8 L307.9 96.0 L309.5 96.1 L311.1 95.8 L312.1 97.8 L312.5 99.9 L314.6 100.3 L316.7 100.6 M297.2 18.8 L295.5 19.2 L293.8 19.7 L292.3 20.6 L291.5 22.5 L290.2 24.1 L288.3 24.3 L287.0 25.8 L285.3 26.2 L284.2 27.5 L283.7 29.2 L282.5 30.4 L282.9 32.2 L283.9 33.9 L282.3 35.5 L280.4 36.7 L280.5 38.4 L281.1 40.2 L282.3 41.7 L283.9 43.0 L282.6 44.2 L281.8 45.8 L279.9 45.1 L278.2 44.0 L276.2 43.7 L274.2 42.8 L272.0 43.0 L270.1 44.3 L267.8 45.1 L266.4 46.8 L265.0 48.5 L266.0 50.6 L267.8 52.0 M306.2 95.8 L304.7 96.6 L302.8 96.8 L301.4 97.8 L299.8 98.4 L298.7 99.8 L297.0 100.2 L295.8 101.3 L294.0 101.9 L292.4 103.2 L290.3 103.0 L288.8 104.1 L287.1 104.7 L285.3 105.0 L283.5 105.3 L281.8 105.5 L280.1 106.2 L278.7 107.3 L276.9 107.6 L276.0 109.2 L275.2 110.8 L274.8 112.5 L274.8 114.2 L274.5 115.8 L274.8 117.4 L274.1 117.5 L273.3 119.1 L272.4 120.6 L272.0 122.4 L269.9 123.1 L267.8 123.1 L266.0 124.2 L264.1 125.0 L262.2 125.9 M214.7 91.9 L215.2 93.5 L216.4 94.8 L217.2 96.3 L217.6 97.9 L218.4 99.4 L220.2 100.3 L221.3 102.1 L222.9 103.3 L224.6 104.3 L226.3 104.7 L227.4 106.1 L228.9 106.8 L230.3 107.8 L231.6 108.9 L233.3 109.3 L234.2 110.9 L235.9 111.7 L236.8 113.3 L238.1 114.5 L239.2 115.9 L240.8 116.8 L242.3 117.5 L243.0 119.2 L244.7 119.8 L246.0 120.7 L247.0 122.2 L248.0 123.4 L249.5 124.2 L250.8 125.8 L252.7 126.6 L253.9 128.2 L255.7 129.2 L256.5 127.6 L258.0 126.6 L260.2 126.7 L262.2 125.9 M262.2 125.9 L263.1 128.1 L264.3 130.1 L264.8 132.0 L265.3 134.0 L266.4 135.7 L268.0 136.9 L269.5 138.2 L270.6 139.9 L271.8 141.3 L273.5 142.1 L274.8 143.4 L274.9 145.1 L274.5 146.9 L275.1 148.6 L274.8 150.4 L273.9 150.3 L272.5 151.8 L271.8 153.8 L270.9 155.2 L270.3 156.8 L269.0 158.0 L267.0 159.1 L265.5 160.8 L263.7 162.1 L262.0 163.6 L261.9 165.3 L260.6 166.6 L260.2 168.2 L259.9 169.9 L260.0 172.0 L260.6 174.1 L260.2 175.7 L259.7 177.3 L259.9 179.0 L260.2 180.9 L259.0 182.6 L259.2 184.6 L257.9 185.7 L256.9 187.2 L255.5 188.2 L254.3 189.5 L253.3 190.7 L251.9 191.7 L250.8 193.0 M274.8 150.4 L276.2 151.9 L276.9 153.9 L279.7 155.3 L281.7 156.4 L283.2 158.1 L284.6 157.2 L285.8 155.9 L287.4 155.3 L288.1 153.6 L289.5 152.5 L290.9 155.3 L292.1 156.6 L293.3 158.0 L294.4 159.5 L296.3 158.2 L298.6 157.4 L300.7 157.6 L302.8 158.1 L304.4 159.1 L306.2 159.5 L307.3 161.4 L307.6 163.7 L308.0 165.5 L308.1 167.4 L307.6 169.2 L307.7 171.1 L307.6 173.0 L306.9 174.8 M276.9 107.6 L279.0 108.0 L281.1 108.3 L283.2 110.4 L281.9 111.9 L280.4 113.2 L279.7 114.9 L279.7 116.7 L281.8 118.8 L283.4 118.4 L285.0 118.4 L286.7 118.1 L288.3 116.9 L290.2 116.0 L292.3 116.3 L294.4 116.7 L296.4 117.5 L298.6 117.4 L299.0 119.5 L298.6 121.6 L297.2 123.1 L296.3 125.0 L295.5 126.9 L294.4 128.7 L293.6 130.6 L292.0 132.2 L291.6 134.3 L291.4 136.2 L290.7 138.0 L290.4 139.9 L290.7 141.6 L290.9 143.4 L292.7 142.9 L294.4 142.0 L296.4 140.9 L298.6 139.9 L299.6 141.5 L300.0 143.4 L301.4 144.7 L302.8 146.2 L302.6 147.8 L302.0 149.4 L302.1 151.1 L301.3 153.1 L300.7 155.3 L298.6 157.4 M224.6 104.3 L223.0 104.8 L221.5 105.6 L220.0 106.4 L218.2 106.3 L216.7 107.3 L215.1 107.8 L213.4 108.1 L211.6 108.5 L209.7 108.6 L207.8 108.5 L206.0 109.3 L205.1 110.9 L203.7 112.1 L202.8 113.7 L202.3 115.5 L200.5 115.3 L198.8 115.1 L197.1 114.6 L195.6 113.5 L193.8 113.4 L192.1 113.3 L190.3 113.4 L188.0 114.0 L186.1 115.5 L184.3 116.9 L183.3 119.0 L181.8 119.8 L180.5 120.8 L179.1 121.8 L178.0 123.5 L176.3 124.6 L176.1 126.8 L174.9 128.8 L173.3 128.2 L171.7 128.1 L170.0 128.1 L168.5 127.1 L166.8 126.6 L165.1 126.0 L163.0 125.3 L162.5 127.3 L162.3 129.5 L161.5 131.5 L160.9 133.7 L159.5 135.8 M305.5 23.4 L306.6 25.3 L306.7 27.6 L307.5 29.6 L307.6 31.8 L308.1 33.5 L308.3 35.3 L307.5 36.9 L306.9 38.8 L308.6 39.9 L309.7 41.6 L311.7 42.3 L313.2 43.7 L315.2 44.8 L316.7 46.5 L317.2 48.6 L318.1 50.6" fill="none" stroke="#07122b" stroke-width="0.65" stroke-linejoin="round"/>
<path d="M1.9 0.5 L2.8 1.8 L3.2 3.5 L4.4 4.6 L5.2 5.8 L5.3 7.3 L5.3 8.7 L4.3 10.3 L4.4 12.1 L4.5 13.5 L5.4 14.7 L5.3 16.2 L6.3 17.5 L6.5 19.2 L7.7 20.3 L8.6 21.7 L9.9 22.8 L10.2 24.5 L10.3 26.0 L11.7 27.1 L11.9 28.6 L12.6 30.1 L13.4 31.5 L14.4 32.8 L15.3 34.2 L15.7 35.9 L17.1 37.0 M6.6 96.7 L4.5 96.0 L3.0 96.4 L1.6 96.8 L0.1 97.0" fill="none" stroke="#111" stroke-width="0.75"/>
<path d="M326.5 -0.4 L323.7 5.9 L320.9 12.2 L318.8 18.2 M248.9 239.8 L245.0 246.8 L241.5 252.4 L239.1 255.9" fill="none" stroke="#333" stroke-width="0.5"/>
<circle cx="320.9" cy="88.1" r="0.35" fill="#fff" stroke="#222" stroke-width="0.35"/>
<circle cx="327.9" cy="98.5" r="0.35" fill="#fff" stroke="#222" stroke-width="0.35"/>
<circle cx="331.4" cy="104.8" r="0.35" fill="#fff" stroke="#222" stroke-width="0.35"/>
<circle cx="323.7" cy="100.4" r="0.35" fill="#fff" stroke="#222" stroke-width="0.35"/>
<circle cx="332.1" cy="116.0" r="0.35" fill="#fff" stroke="#222" stroke-width="0.35"/>
<circle cx="326.5" cy="142.7" r="0.35" fill="#fff" stroke="#222" stroke-width="0.35"/>
<circle cx="329.3" cy="127.3" r="0.35" fill="#fff" stroke="#222" stroke-width="0.35"/>
<circle cx="319.5" cy="149.0" r="0.35" fill="#fff" stroke="#222" stroke-width="0.35"/>
<circle cx="312.5" cy="174.1" r="0.35" fill="#fff" stroke="#222" stroke-width="0.35"/>
<circle cx="309.0" cy="182.5" r="0.35" fill="#fff" stroke="#222" stroke-width="0.35"/>
<circle cx="325.1" cy="31.1" r="0.35" fill="#fff" stroke="#222" stroke-width="0.35"/>
<circle cx="322.3" cy="45.1" r="0.35" fill="#fff" stroke="#222" stroke-width="0.35"/>
<path d="M309.0 36.0 L312.5 35.3 L316.0 33.2 L319.5 32.5 L317.4 35.0 L313.9 37.4 L311.8 39.5 L309.7 38.8Z" fill="#fff" stroke="#101828" stroke-width="0.3"/>
<text x="7.7" y="8.5" font-size="6.17" font-weight="bold" fill="#0a0a0a" stroke="#0a0a0a" stroke-width="0.15">Climatologia de Precipitação - Novembro</text>
<rect x="14.90" y="159.20" width="6.70" height="15.82" fill="#05387a"/>
<rect x="14.90" y="174.82" width="6.70" height="15.82" fill="#044ca6"/>
<rect x="14.90" y="190.43" width="6.70" height="15.82" fill="#035be5"/>
<rect x="14.90" y="206.05" width="6.70" height="15.82" fill="#72b1fc"/>
<rect x="14.90" y="221.67" width="6.70" height="15.82" fill="#d2e7fe"/>
<rect x="14.90" y="237.28" width="6.70" height="15.82" fill="#fff"/>
<rect x="14.90" y="159.20" width="6.70" height="93.70" fill="none" stroke="#888" stroke-width="0.3"/>
<text x="21.5" y="161.35" font-size="4.3" font-weight="bold" fill="#000" stroke="#000" stroke-width="0.15">350</text>
<text x="21.5" y="176.35" font-size="4.3" font-weight="bold" fill="#000" stroke="#000" stroke-width="0.15">250</text>
<text x="21.5" y="191.25" font-size="4.3" font-weight="bold" fill="#000" stroke="#000" stroke-width="0.15">200</text>
<text x="21.5" y="206.35" font-size="4.3" font-weight="bold" fill="#000" stroke="#000" stroke-width="0.15">150</text>
<text x="21.5" y="221.25" font-size="4.3" font-weight="bold" fill="#000" stroke="#000" stroke-width="0.15">125</text>
<text x="21.5" y="237.45" font-size="4.3" font-weight="bold" fill="#000" stroke="#000" stroke-width="0.15">100</text>
<text x="21.5" y="252.55" font-size="4.3" font-weight="bold" fill="#000" stroke="#000" stroke-width="0.15">75</text>
<rect x="154.7" y="247.7" width="60.2" height="2.5" fill="#000"/>
<rect x="169.8" y="248.3" width="15" height="1.2" fill="#e4e4e4"/>
<text x="155.0" y="246.1" font-size="3.5" fill="#333" text-anchor="middle">0</text>
<text x="169.8" y="246.1" font-size="3.5" fill="#333" text-anchor="middle">20</text>
<text x="184.8" y="246.1" font-size="3.5" fill="#333" text-anchor="middle">50</text>
<text x="212.1" y="246.1" font-size="3.5" fill="#333">100 km</text>
<path d="M348.7 18.6 L352.2 8.1 L355.7 18.6 L352.2 15.8 Z" fill="#000"/>
<text x="352.4" y="7.3" font-size="2.6" fill="#222" text-anchor="middle">N</text>
<g transform="translate(315.00 208.50) scale(0.9887 0.9799)">
<rect x="0" y="0" width="44.3" height="44.8" rx="1.3" fill="#2f5a86"/>
<rect x="0" y="7.4" width="44.3" height="29.8" fill="#ff6302"/>
<path d="M14.8 10.8 L29.2 10.8 L33 14.9 L44.3 10.8 L44.3 19.6 L29.9 19.6 L26.1 16.1 L19.2 16.1 L13.5 23.7 L5.7 23.7 Z" fill="#fff"/>
<path d="M29.2 33.8 L14.8 33.8 L11 29.7 L0 33.8 L0 25 L14.1 25 L17.9 28.5 L24.8 28.5 L30.5 20.9 L38.3 20.9 Z" fill="#fff"/>
<path d="M22.2 17.7 L26.7 25.6 L17.8 25.6 Z" fill="#2f5a86"/>
<text x="2.1" y="5.6" font-size="4" font-weight="bold" fill="#fff" textLength="40.6" lengthAdjust="spacingAndGlyphs">PROTEÇÃO E DEFESA CIVIL</text>
<text x="2.1" y="42.4" font-size="4.7" font-weight="bold" fill="#fff" textLength="40.2" lengthAdjust="spacingAndGlyphs">SANTA CATARINA</text>
</g>
<text x="54.9" y="-3.0" font-size="2.7" fill="#555" text-anchor="middle">53° W</text>
<rect x="54.6" y="-1.9" width="0.5" height="1.9" fill="#555"/>
<text x="114.9" y="-3.0" font-size="2.7" fill="#555" text-anchor="middle">53° W</text>
<rect x="114.7" y="-1.9" width="0.5" height="1.9" fill="#555"/>
<text x="174.9" y="-3.0" font-size="2.7" fill="#555" text-anchor="middle">53° W</text>
<rect x="174.7" y="-1.9" width="0.5" height="1.9" fill="#555"/>
<text x="234.9" y="-3.0" font-size="2.7" fill="#555" text-anchor="middle">53° W</text>
<rect x="234.7" y="-1.9" width="0.5" height="1.9" fill="#555"/>
<text x="294.9" y="-3.0" font-size="2.7" fill="#555" text-anchor="middle">53° W</text>
<rect x="294.6" y="-1.9" width="0.5" height="1.9" fill="#555"/>
<text x="354.9" y="-3.0" font-size="2.7" fill="#555" text-anchor="middle">53° W</text>
<rect x="354.6" y="-1.9" width="0.5" height="1.9" fill="#555"/>
<rect x="361.6" y="20.9" width="1.9" height="0.5" fill="#555"/>
<text transform="translate(367.0 21.1) rotate(-90)" font-size="2.7" fill="#555" text-anchor="middle">27° S</text>
<rect x="361.6" y="87.3" width="1.9" height="0.5" fill="#555"/>
<text transform="translate(367.0 87.6) rotate(-90)" font-size="2.7" fill="#555" text-anchor="middle">27° S</text>
<rect x="361.6" y="153.8" width="1.9" height="0.5" fill="#555"/>
<text transform="translate(367.0 154.1) rotate(-90)" font-size="2.7" fill="#555" text-anchor="middle">27° S</text>
<rect x="361.6" y="220.3" width="1.9" height="0.5" fill="#555"/>
<text transform="translate(367.0 220.6) rotate(-90)" font-size="2.7" fill="#555" text-anchor="middle">27° S</text>
<rect x="0" y="0" width="361.6" height="255.7" fill="none" stroke="#3c3c3c" stroke-width="1.0"/>
</g>
<text x="17.7" y="27.7" font-size="15.8" fill="#555">(a)</text>
<text x="432.9" y="27.7" font-size="15.8" fill="#555">(b)</text>
<text x="227.8" y="327.2" font-size="15.8" fill="#555">(c)</text>
</svg></body></html>
